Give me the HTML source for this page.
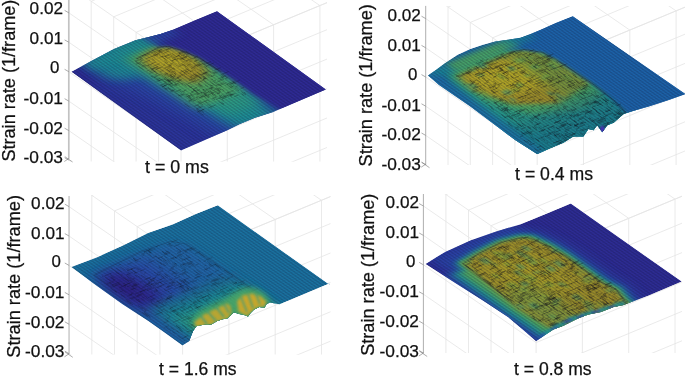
<!DOCTYPE html>
<html><head><meta charset="utf-8"><title>Strain rate surfaces</title>
<style>html,body{margin:0;padding:0;background:#fff;}svg{display:block}</style></head>
<body>
<svg width="685" height="378" viewBox="0 0 685 378" font-family="'Liberation Sans', sans-serif" fill="#111">
<defs>
<filter id="b0.4" x="-60%" y="-60%" width="220%" height="220%"><feGaussianBlur stdDeviation="0.4"/></filter>
<filter id="b1" x="-60%" y="-60%" width="220%" height="220%"><feGaussianBlur stdDeviation="1"/></filter>
<filter id="b1.5" x="-60%" y="-60%" width="220%" height="220%"><feGaussianBlur stdDeviation="1.5"/></filter>
<filter id="b2" x="-60%" y="-60%" width="220%" height="220%"><feGaussianBlur stdDeviation="2"/></filter>
<filter id="b2.5" x="-60%" y="-60%" width="220%" height="220%"><feGaussianBlur stdDeviation="2.5"/></filter>
<filter id="b3" x="-60%" y="-60%" width="220%" height="220%"><feGaussianBlur stdDeviation="3"/></filter>
<filter id="b3.5" x="-60%" y="-60%" width="220%" height="220%"><feGaussianBlur stdDeviation="3.5"/></filter>
<filter id="b4" x="-60%" y="-60%" width="220%" height="220%"><feGaussianBlur stdDeviation="4"/></filter>
<filter id="b4.5" x="-60%" y="-60%" width="220%" height="220%"><feGaussianBlur stdDeviation="4.5"/></filter>
<filter id="b5" x="-60%" y="-60%" width="220%" height="220%"><feGaussianBlur stdDeviation="5"/></filter>
<filter id="b6" x="-60%" y="-60%" width="220%" height="220%"><feGaussianBlur stdDeviation="6"/></filter>
<filter id="b7" x="-60%" y="-60%" width="220%" height="220%"><feGaussianBlur stdDeviation="7"/></filter>
<pattern id="mesh" width="2" height="2" patternUnits="userSpaceOnUse"><line x1="0.5" y1="0" x2="0.5" y2="2" stroke="#08082a" stroke-width="0.55" opacity="0.30"/><line x1="0" y1="0.5" x2="2" y2="0.5" stroke="#08082a" stroke-width="0.4" opacity="0.15"/></pattern>
</defs>
<rect width="685" height="378" fill="#fff"/>
<!-- panel 1 -->
<clipPath id="k1"><rect x="66" y="0" width="261" height="161.7"/></clipPath>
<g clip-path="url(#k1)" stroke="#e5e5e5" stroke-width="0.8" fill="none">
<line x1="68.8" y1="-14.2" x2="181.0" y2="63.2"/>
<line x1="181.0" y1="63.2" x2="332.0" y2="0.6"/>
<line x1="68.8" y1="12.8" x2="181.0" y2="90.2"/>
<line x1="181.0" y1="90.2" x2="332.0" y2="27.6"/>
<line x1="68.8" y1="42.2" x2="181.0" y2="119.7"/>
<line x1="181.0" y1="119.7" x2="332.0" y2="57.0"/>
<line x1="68.8" y1="71.7" x2="181.0" y2="149.1"/>
<line x1="181.0" y1="149.1" x2="332.0" y2="86.5"/>
<line x1="68.8" y1="101.1" x2="181.0" y2="178.6"/>
<line x1="181.0" y1="178.6" x2="332.0" y2="115.9"/>
<line x1="68.8" y1="130.6" x2="181.0" y2="208.0"/>
<line x1="181.0" y1="208.0" x2="332.0" y2="145.4"/>
<line x1="68.8" y1="160.1" x2="181.0" y2="237.5"/>
<line x1="181.0" y1="237.5" x2="332.0" y2="174.8"/>
<line x1="91.2" y1="1.3" x2="91.2" y2="161.7"/>
<line x1="91.2" y1="1.3" x2="491.2" y2="-164.7"/>
<line x1="113.7" y1="16.8" x2="113.7" y2="161.7"/>
<line x1="113.7" y1="16.8" x2="513.7" y2="-149.2"/>
<line x1="136.1" y1="32.3" x2="136.1" y2="161.7"/>
<line x1="136.1" y1="32.3" x2="536.1" y2="-133.7"/>
<line x1="158.6" y1="47.7" x2="158.6" y2="161.7"/>
<line x1="158.6" y1="47.7" x2="558.6" y2="-118.3"/>
<line x1="181.0" y1="63.2" x2="181.0" y2="161.7"/>
<line x1="181.0" y1="63.2" x2="581.0" y2="-102.8"/>
<line x1="227.3" y1="44.0" x2="227.3" y2="161.7"/>
<line x1="227.3" y1="44.0" x2="-172.7" y2="-232.0"/>
<line x1="273.6" y1="24.8" x2="273.6" y2="161.7"/>
<line x1="273.6" y1="24.8" x2="-126.4" y2="-251.2"/>
<line x1="319.9" y1="5.6" x2="319.9" y2="161.7"/>
<line x1="319.9" y1="5.6" x2="-80.1" y2="-270.4"/>
<line x1="366.2" y1="-13.6" x2="-33.8" y2="-289.6"/>
<line x1="412.5" y1="-32.9" x2="12.5" y2="-308.9"/>
<line x1="458.8" y1="-52.1" x2="58.8" y2="-328.1"/>
<line x1="505.1" y1="-71.3" x2="105.1" y2="-347.3"/>
</g>
<line x1="68.8" y1="0" x2="68.8" y2="158.8" stroke="#c2c2c2" stroke-width="1.7"/>
<line x1="64.6" y1="10.4" x2="68.8" y2="12.8" stroke="#8a8a8a" stroke-width="0.7"/>
<line x1="64.6" y1="39.9" x2="68.8" y2="42.2" stroke="#8a8a8a" stroke-width="0.7"/>
<line x1="64.6" y1="69.3" x2="68.8" y2="71.7" stroke="#8a8a8a" stroke-width="0.7"/>
<line x1="64.6" y1="98.7" x2="68.8" y2="101.1" stroke="#8a8a8a" stroke-width="0.7"/>
<line x1="64.6" y1="128.2" x2="68.8" y2="130.6" stroke="#8a8a8a" stroke-width="0.7"/>
<line x1="64.6" y1="157.7" x2="68.8" y2="160.1" stroke="#8a8a8a" stroke-width="0.7"/>
<path d="M64.8,156.6L72.6,162.0M64.3,161.5L68.8,158.5" stroke="#777" stroke-width="0.6" fill="none"/>
<clipPath id="c1"><polygon points="71.3,71.7 92.7,60.3 114.0,49.0 135.4,40.2 148.0,37.2 160.6,33.9 173.0,29.7 195.8,20.1 217.0,11.3 325.9,89.4 272.6,112.2 255.0,117.7 239.9,124.0 227.3,130.3 181.0,150.6"/></clipPath>
<g clip-path="url(#c1)">
<polygon points="71.3,71.7 92.7,60.3 114.0,49.0 135.4,40.2 148.0,37.2 160.6,33.9 173.0,29.7 195.8,20.1 217.0,11.3 325.9,89.4 272.6,112.2 255.0,117.7 239.9,124.0 227.3,130.3 181.0,150.6" fill="#2d2c94"/>
<g transform="matrix(1.4570,-0.6040,1.0970,0.7890,71.3,71.7)">
<rect x="-2" y="18" width="36" height="94" fill="#2a3ea2" filter="url(#b5)" opacity="0.55"/>
<polygon points="8.0,-5.0 66.0,-5.0 66.0,108.0 26.0,108.0 18.0,50.0 10.0,20.0" fill="#2a4aa8" filter="url(#b5)" opacity="0.85"/>
<polygon points="27.0,-5.0 64.0,-5.0 64.0,104.0 38.0,104.0 33.0,60.0 28.0,25.0" fill="#1f8d96" filter="url(#b4.5)" opacity="1"/>
<ellipse cx="24" cy="10" rx="13" ry="16" fill="#1f8d96" filter="url(#b4)" opacity="0.9"/>
<polygon points="30.0,-2.0 64.0,-2.0 64.0,88.0 42.0,88.0 36.0,50.0" fill="#2a9a85" filter="url(#b4.5)" opacity="1"/>
<rect x="33" y="6" width="31" height="66" fill="#4da562" filter="url(#b4)" opacity="1"/>
<polygon points="37.0,13.5 46.0,9.5 54.0,10.0 60.0,14.5 63.0,29.5 60.0,46.0 47.0,52.0 40.0,40.0 36.5,26.0" fill="#9c8e2a" filter="url(#b3)" opacity="1"/>
<polygon points="40.0,14.0 52.0,13.0 58.0,20.0 59.0,32.0 52.0,40.0 44.0,36.0 39.0,24.0" fill="#b8ac28" filter="url(#b4)" opacity="0.85"/>
<polygon points="50.0,-10.0 53.0,9.0 57.5,12.0 60.7,19.5 64.0,31.5 65.5,58.0 66.0,80.0 70.0,110.0 110.0,110.0 110.0,-10.0" fill="#2d2c94" filter="url(#b1.5)" opacity="1"/>
<rect x="10" y="-4" width="46" height="10" fill="#1f8d96" filter="url(#b3)" opacity="0.9"/>
<rect x="52" y="-4" width="18" height="10" fill="#2a4aa8" filter="url(#b3)" opacity="0.8"/>
<path d="M36.0,11.5 L45.0,10.5 L53.0,9.5 L57.5,12.0 L60.7,19.5 L64.0,31.5 L65.2,50.0" stroke="#15152a" stroke-width="0.8" fill="none" opacity="0.55" stroke-linejoin="round" filter="url(#b0.4)"/>
<path d="M45.8,46.4h5.2M47.8,48.2v2.0M52.0,61.5h1.6M33.2,62.6h4.2M52.9,50.0h1.9M48.5,13.9h2.0M31.1,40.2v3.1M48.2,51.6v3.3M46.0,28.1v5.5M59.4,56.0h2.6M40.1,14.6h4.5M59.6,35.1v5.3M61.9,40.5h5.4M32.6,50.9h4.5M33.1,31.6v5.3M34.1,26.0h1.6M57.9,21.5h3.6M36.7,57.6v1.8M34.1,37.3h2.1M64.0,62.2v2.5M37.4,35.6v4.9M33.5,74.3h2.1M57.0,31.4h2.5M33.2,47.9v2.2M43.0,39.5h5.3M50.1,66.3h2.0M61.8,63.2h2.3M55.9,71.1v2.0M60.9,49.2h3.0M31.4,72.6v2.2M39.0,63.5h3.8M36.1,56.8h1.5M49.6,65.4h3.8M45.6,13.9h2.0M50.0,18.6v2.8M64.3,52.7v4.2M34.9,12.3v1.3M54.5,72.6v1.3M46.9,57.5v2.6M32.6,45.5v4.4M55.8,55.7v4.6M42.3,54.5v5.1M44.6,61.4v4.9M51.9,34.9v3.7M32.8,51.6v5.5M55.5,35.2v4.4M45.4,64.5v1.6M31.0,49.1h3.3M54.4,42.3v3.8M39.0,10.7v2.5M37.1,21.0v5.1M45.5,68.0v2.6M36.9,38.0v4.7M60.8,35.0h3.7M34.8,42.3v4.8M54.9,71.8h2.4M45.8,27.9h2.1M51.9,42.1v2.6M54.8,47.1v2.5M45.9,11.6h4.8M34.9,13.1h3.9M52.0,52.6v4.7M54.0,23.0h3.2M30.4,40.7h4.3M39.5,32.5v4.2M51.5,59.2v2.9M62.6,57.0h1.8M51.9,69.1v2.8M60.8,61.8h5.3M52.8,23.3v4.3M52.5,56.6v2.1M48.8,61.4v2.6M60.0,32.7h1.6M49.3,59.9h3.3M58.0,21.2v2.6M34.9,19.7v3.4M59.4,54.8h5.3M37.7,44.2v2.4M52.4,44.0v4.8M40.9,34.8v4.8M37.3,65.3v5.4M50.1,23.1v3.5M51.2,11.8v5.4M44.0,62.1h3.6M54.2,14.3h3.5M63.5,70.0h2.4M34.4,38.2v4.7M46.7,30.6v2.0M36.8,24.8h4.2M42.4,50.3v1.7M34.3,43.2h2.3M48.6,38.4h2.8M48.5,20.4v2.1M52.3,44.4v4.9M60.0,25.1v4.4M61.6,30.5v2.6M37.6,74.9h5.0M38.4,57.2h2.3M59.1,37.4h4.6M44.1,54.5h1.3M53.9,69.2h5.4M47.7,59.3v3.4M36.6,14.6h1.7M49.3,43.5h3.6M36.5,23.3v4.8M32.2,71.8v3.2M41.4,40.4h3.4M51.0,10.9v4.2M36.3,39.5h4.4M36.8,20.7h3.4M61.3,62.1v4.2M52.0,36.3v3.8M64.4,62.3v2.3M56.1,60.6h4.7M61.4,67.2v4.2M56.8,36.4h4.3M42.0,40.5h1.2M52.4,50.6v2.2M53.3,32.0v4.0M48.7,35.3v5.5M54.5,59.5h5.4M51.5,58.0h2.3M43.1,16.4v2.3M49.3,43.0v5.4M50.9,59.4v1.4M35.6,40.7h1.9M51.4,13.8h5.3M48.4,48.9h2.8M52.9,46.4v2.4M40.4,10.9h2.3M35.5,59.1v2.9M32.6,68.9h3.0M48.3,70.9h4.3M64.3,63.1h3.8M51.8,39.6h2.1M48.5,18.1v3.1M45.9,27.0h3.7M57.2,44.5v5.5M55.7,25.5v1.7M57.5,50.6h2.7M54.0,46.7v3.7M56.4,22.3v2.3M62.1,67.1h1.4M39.5,37.6h3.9M49.0,14.7v1.6M49.3,51.0h2.8M37.4,32.3v4.4M32.6,17.8v4.7M56.9,23.9h3.0M58.3,34.0v4.0M41.4,45.7v4.4M45.0,34.0v1.6M32.7,15.4h3.6M54.0,29.4h4.5M37.5,53.0h1.6M55.4,55.1h2.4M42.5,57.2h2.8M54.8,47.0v5.1M62.0,38.5h4.7M41.1,36.0v5.2M38.7,33.5h2.8M43.8,35.2v2.0M57.9,45.1v4.8M36.2,59.3h5.0M30.8,43.5v3.5M63.8,52.3h4.7M49.1,61.2h1.6M55.8,68.4v1.6M35.0,58.5h4.0M37.7,59.7v3.4M43.8,32.0v5.4M47.3,44.9v4.3M62.0,36.7v4.8M59.9,62.4v4.8M63.5,51.6v3.5M58.1,37.4h3.0M55.9,74.4h2.8M37.2,37.6v2.5M32.1,30.0v1.7M57.2,21.7h1.5M50.4,69.1h1.4M36.5,24.1v2.2M50.8,24.6h2.0M36.0,59.2v2.5M58.6,41.2v2.3M49.2,72.2h3.3M31.7,71.6h4.6M48.5,43.5v2.4M53.0,25.4h1.2M43.0,61.8v4.3M35.5,20.2h2.6M60.4,43.5v3.9M39.3,44.7v1.8M30.0,63.4v4.8M32.9,27.5h4.3M46.8,40.5v5.3M60.0,29.7h4.6M58.9,23.5v3.5M35.5,64.1h2.5M32.7,29.9v3.2M42.6,54.7h1.7M46.2,72.8v4.8M54.9,25.4h3.6M30.4,74.5h4.6M51.6,28.9v2.8M40.4,31.9v2.9M39.0,23.0h4.3M63.1,46.6h4.3M34.9,16.1v4.1M36.3,36.1v4.8M33.2,24.7h1.9M44.2,14.7h5.2M47.9,52.1v4.5M43.5,31.5h3.0M44.0,55.5v5.4M53.1,49.6h1.3M42.0,52.3h1.7M47.8,61.3v4.7M35.5,59.8v5.1M42.3,42.5v1.8M55.0,64.3v2.0M51.9,22.9h1.6M50.2,55.3v2.6M42.6,40.1v1.7M34.7,68.8v3.5M49.6,27.2v5.1M58.6,49.1v1.7M40.1,68.3v2.2M59.1,22.1h3.6M53.0,30.0v4.1M43.4,48.5h4.7M37.0,40.4h1.8M49.9,21.3h3.4M49.9,31.6h4.0M53.5,19.4v5.3M46.4,36.7v3.9M56.5,58.9v3.3M59.3,65.6h3.0M49.8,68.8v3.5M45.1,68.8h2.6M55.4,68.5v4.3M56.3,29.8h3.8M34.4,39.1h3.4M31.8,55.2h3.5M40.7,35.7h2.2M61.9,72.8v4.1M44.7,62.3v2.2M49.8,68.7v1.6M34.3,44.9h5.3M38.5,29.5h2.6M61.3,63.0h2.9M50.5,13.0v1.3M40.8,42.4v5.2M46.5,23.4v2.5M59.3,33.0h3.2M60.8,74.7v2.1M36.7,67.2h1.4M55.4,30.3v5.1M55.0,18.8v4.2M45.6,15.1h2.2M54.9,22.8h2.0M53.3,61.4v2.8M61.0,48.3h2.2M62.4,53.4v2.4M33.1,73.9v3.1M48.6,12.9h3.8M38.8,62.2h1.6M56.4,26.0v2.4M36.5,68.3h5.4M46.2,58.8v2.9M47.5,21.7v3.6M42.6,52.8v4.6M47.7,65.0v4.1M57.3,20.7h3.8M45.4,60.2v4.6M38.3,41.8v2.2M47.5,12.3v3.8M50.0,66.7h2.0M30.6,42.2h3.1M39.2,61.9v1.5M49.9,45.3h4.6M35.1,30.2h1.4M51.7,44.2v2.3M33.1,63.3h1.9M35.6,54.9v4.8M32.1,36.7h2.8M47.1,59.5h5.4M45.9,58.4h1.4M43.8,29.4h3.0M31.2,74.7v4.5M38.0,26.5h3.6M46.2,70.6h2.8M31.4,36.2h4.0M42.0,55.2v4.9M61.0,40.1v2.9M43.3,60.8h2.1M36.4,45.7h1.9M37.5,40.4h2.5M60.2,23.3h2.8M54.2,33.6h2.4M36.4,27.1v2.9M55.0,27.5h2.8M56.8,57.0h5.1M41.3,35.0v1.6M41.4,60.1h3.4M43.8,25.5h1.4M50.8,12.1h2.5M49.0,18.8h4.2M55.4,53.3h1.8M39.8,56.3h2.9M60.3,24.7h2.5M37.6,12.6v1.3M49.8,62.6h5.4M53.5,69.7v2.1M53.3,72.1h4.9M52.1,15.8h3.0M32.1,34.9h2.6M39.8,20.3h2.9M35.8,53.2h2.2M42.0,37.4v1.8M54.5,46.0h4.2M43.7,33.7h1.5M31.9,42.2h3.7M41.4,26.5h1.3M61.2,46.8v2.3M36.5,40.5v3.8M42.7,47.5v5.3M52.0,50.4h3.0M39.7,63.9h5.0M34.8,43.0h2.5M36.7,24.9h4.1M30.0,45.3h2.9M47.3,52.3v3.6M49.6,64.0h5.4M42.1,67.6v2.5M54.3,54.6v5.3M35.6,50.4v3.3M42.9,28.6v4.4M38.3,26.2h2.6M48.0,18.2h1.5M33.6,55.8h1.7M57.0,41.2v1.9M38.9,43.0h4.6M55.1,26.4h4.3M41.7,59.4v4.8M49.9,37.3v4.2M59.1,62.1h1.7M53.4,25.0h2.0M50.5,71.2h5.4M54.1,37.3h3.9M62.7,74.3v1.4M34.1,12.8v2.4M41.6,11.7h3.5M43.1,30.1v4.6M39.9,35.5v3.9M54.3,45.5h4.6M36.1,17.0h5.2M47.1,17.8h2.6M49.8,19.3h3.9M38.0,41.3h2.8M61.2,30.1h1.5M46.9,74.8v2.1M46.9,36.9h4.7M32.0,45.8v4.0M39.7,71.0v4.9M45.5,64.2h4.3M34.2,14.9v2.7M40.9,43.4h1.2M48.5,62.7v4.6M44.0,62.2v4.8M54.7,26.3h5.1M50.2,24.8h2.9M53.0,62.7v2.8M42.4,28.1h5.1M33.3,31.8h4.4M56.0,45.5h4.1M33.7,19.3h2.7M30.3,42.7h2.9M48.8,71.9v2.1M41.2,59.0v1.7" stroke="#101018" stroke-width="0.5" fill="none" opacity="0.33"/>
<rect x="-20" y="-20" width="140" height="140" fill="url(#mesh)"/>
</g>
</g>
<text x="63.0" y="13.9" text-anchor="end" textLength="33.4" lengthAdjust="spacingAndGlyphs" font-size="16.8" stroke="#111" stroke-width="0.25">0.02</text>
<text x="63.0" y="43.8" text-anchor="end" textLength="33.4" lengthAdjust="spacingAndGlyphs" font-size="16.8" stroke="#111" stroke-width="0.25">0.01</text>
<text x="59.5" y="72.8" text-anchor="end" textLength="9.4" lengthAdjust="spacingAndGlyphs" font-size="16.8" stroke="#111" stroke-width="0.25">0</text>
<text x="63.0" y="103.6" text-anchor="end" textLength="39.5" lengthAdjust="spacingAndGlyphs" font-size="16.8" stroke="#111" stroke-width="0.25">-0.01</text>
<text x="63.0" y="133.5" text-anchor="end" textLength="39.5" lengthAdjust="spacingAndGlyphs" font-size="16.8" stroke="#111" stroke-width="0.25">-0.02</text>
<text x="63.0" y="163.4" text-anchor="end" textLength="39.5" lengthAdjust="spacingAndGlyphs" font-size="16.8" stroke="#111" stroke-width="0.25">-0.03</text>
<text transform="translate(14.8,161.6) rotate(-90)" textLength="162.0" lengthAdjust="spacingAndGlyphs" font-size="17.6" stroke="#111" stroke-width="0.25">Strain rate (1/frame)</text>
<text x="145.0" y="172.6" textLength="63.8" lengthAdjust="spacingAndGlyphs" font-size="17.7" stroke="#111" stroke-width="0.25">t = 0 ms</text>
<!-- panel 2 -->
<clipPath id="k2"><rect x="423" y="6" width="263" height="159"/></clipPath>
<g clip-path="url(#k2)" stroke="#e5e5e5" stroke-width="0.8" fill="none">
<line x1="425.7" y1="-8.4" x2="537.2" y2="68.5"/>
<line x1="537.2" y1="68.5" x2="691.0" y2="4.7"/>
<line x1="425.7" y1="18.6" x2="537.2" y2="95.5"/>
<line x1="537.2" y1="95.5" x2="691.0" y2="31.7"/>
<line x1="425.7" y1="47.8" x2="537.2" y2="124.7"/>
<line x1="537.2" y1="124.7" x2="691.0" y2="60.9"/>
<line x1="425.7" y1="77.0" x2="537.2" y2="153.9"/>
<line x1="537.2" y1="153.9" x2="691.0" y2="90.1"/>
<line x1="425.7" y1="106.2" x2="537.2" y2="183.1"/>
<line x1="537.2" y1="183.1" x2="691.0" y2="119.3"/>
<line x1="425.7" y1="135.4" x2="537.2" y2="212.3"/>
<line x1="537.2" y1="212.3" x2="691.0" y2="148.5"/>
<line x1="425.7" y1="164.6" x2="537.2" y2="241.5"/>
<line x1="537.2" y1="241.5" x2="691.0" y2="177.7"/>
<line x1="448.0" y1="7.0" x2="448.0" y2="165.0"/>
<line x1="448.0" y1="7.0" x2="848.0" y2="-159.0"/>
<line x1="470.3" y1="22.4" x2="470.3" y2="165.0"/>
<line x1="470.3" y1="22.4" x2="870.3" y2="-143.6"/>
<line x1="492.6" y1="37.8" x2="492.6" y2="165.0"/>
<line x1="492.6" y1="37.8" x2="892.6" y2="-128.2"/>
<line x1="514.9" y1="53.1" x2="514.9" y2="165.0"/>
<line x1="514.9" y1="53.1" x2="914.9" y2="-112.9"/>
<line x1="537.2" y1="68.5" x2="537.2" y2="165.0"/>
<line x1="537.2" y1="68.5" x2="937.2" y2="-97.5"/>
<line x1="583.5" y1="49.3" x2="583.5" y2="165.0"/>
<line x1="583.5" y1="49.3" x2="183.5" y2="-226.7"/>
<line x1="629.8" y1="30.1" x2="629.8" y2="165.0"/>
<line x1="629.8" y1="30.1" x2="229.8" y2="-245.9"/>
<line x1="676.1" y1="10.9" x2="676.1" y2="165.0"/>
<line x1="676.1" y1="10.9" x2="276.1" y2="-265.1"/>
<line x1="722.4" y1="-8.3" x2="322.4" y2="-284.3"/>
<line x1="768.7" y1="-27.5" x2="368.7" y2="-303.5"/>
<line x1="815.0" y1="-46.8" x2="415.0" y2="-322.8"/>
<line x1="861.3" y1="-66.0" x2="461.3" y2="-342.0"/>
</g>
<line x1="425.7" y1="5.9" x2="425.7" y2="164.5" stroke="#8c8c8c" stroke-width="0.7"/>
<line x1="421.5" y1="16.2" x2="425.7" y2="18.6" stroke="#8a8a8a" stroke-width="0.7"/>
<line x1="421.5" y1="45.4" x2="425.7" y2="47.8" stroke="#8a8a8a" stroke-width="0.7"/>
<line x1="421.5" y1="74.6" x2="425.7" y2="77.0" stroke="#8a8a8a" stroke-width="0.7"/>
<line x1="421.5" y1="103.8" x2="425.7" y2="106.2" stroke="#8a8a8a" stroke-width="0.7"/>
<line x1="421.5" y1="133.0" x2="425.7" y2="135.4" stroke="#8a8a8a" stroke-width="0.7"/>
<line x1="421.5" y1="162.2" x2="425.7" y2="164.6" stroke="#8a8a8a" stroke-width="0.7"/>
<path d="M421.7,162.3L429.5,167.7M421.2,167.2L425.7,164.2" stroke="#777" stroke-width="0.6" fill="none"/>
<clipPath id="c2"><polygon points="428.0,75.4 435.1,70.4 445.1,62.9 457.7,54.8 470.3,49.0 482.9,44.8 495.4,41.5 508.0,39.7 520.6,37.7 530.6,33.9 540.7,29.7 555.8,23.1 572.8,16.3 685.5,94.0 668.9,100.1 648.8,106.4 631.2,111.4 623.6,113.9 613.6,122.7 607.3,125.2 602.3,132.3 597.2,125.2 593.5,130.3 588.4,129.0 583.4,136.5 573.3,136.5 563.3,142.8 550.7,147.9 537.2,154.1 515.5,140.3 495.4,125.2 470.3,106.4 438.9,85.0"/></clipPath>
<g clip-path="url(#c2)">
<polygon points="428.0,75.4 435.1,70.4 445.1,62.9 457.7,54.8 470.3,49.0 482.9,44.8 495.4,41.5 508.0,39.7 520.6,37.7 530.6,33.9 540.7,29.7 555.8,23.1 572.8,16.3 685.5,94.0 668.9,100.1 648.8,106.4 631.2,111.4 623.6,113.9 613.6,122.7 607.3,125.2 602.3,132.3 597.2,125.2 593.5,130.3 588.4,129.0 583.4,136.5 573.3,136.5 563.3,142.8 550.7,147.9 537.2,154.1 515.5,140.3 495.4,125.2 470.3,106.4 438.9,85.0" fill="#1c62a8"/>
<g transform="matrix(1.4480,-0.5910,1.0920,0.7870,428,75.4)">
<polygon points="12.0,8.0 30.0,5.0 50.0,7.0 58.0,12.0 63.0,20.0 65.5,33.0 66.5,63.0 65.7,81.5 63.5,96.0 63.0,110.0 0.0,110.0 5.0,60.0 8.0,37.0 9.0,18.0" fill="#1f6f97" stroke="#1f6f97" stroke-width="14" stroke-linejoin="round" filter="url(#b3)" opacity="1"/>
<polygon points="12.0,8.0 30.0,5.0 50.0,7.0 58.0,12.0 63.0,20.0 65.5,33.0 66.5,63.0 65.7,81.5 63.5,96.0 63.0,110.0 0.0,110.0 5.0,60.0 8.0,37.0 9.0,18.0" fill="#1f8d96" stroke="#1f8d96" stroke-width="6" stroke-linejoin="round" filter="url(#b2.5)" opacity="1"/>
<polygon points="9.0,6.0 30.0,4.0 50.0,6.0 58.0,11.0 63.0,20.0 66.0,33.0 67.0,73.0 64.0,92.0 30.0,92.0 8.0,80.0 6.0,40.0" fill="#2a9a85" filter="url(#b3)" opacity="1"/>
<polygon points="11.0,7.0 30.0,5.0 50.0,7.0 58.0,12.0 63.0,20.0 66.0,33.0 67.0,72.0 48.0,80.0 22.0,68.0 10.0,38.0" fill="#4da562" filter="url(#b3)" opacity="1"/>
<polygon points="13.0,10.5 30.0,10.0 42.0,9.5 51.0,8.5 59.0,11.0 65.0,19.0 67.0,33.0 67.0,60.0 40.0,66.0 20.0,52.0 11.5,27.0" fill="#9c8e2a" filter="url(#b2)" opacity="1"/>
<polygon points="15.0,13.0 30.0,12.0 45.0,12.0 52.0,22.0 50.0,46.0 30.0,46.0 18.0,38.0 14.0,24.0" fill="#b8ac28" filter="url(#b4)" opacity="0.85"/>
<rect x="47" y="8" width="23" height="64" fill="#3f9a5a" filter="url(#b4)" opacity="0.4"/>
<rect x="-5" y="68" width="75" height="44" fill="#1b7585" filter="url(#b5)" opacity="0.55"/>
<rect x="-5" y="84" width="75" height="28" fill="#1f7f8c" filter="url(#b4)" opacity="0.8"/>
<polygon points="46.0,-10.0 50.0,5.5 58.0,11.0 64.5,19.5 66.5,36.0 67.5,63.0 66.7,81.5 64.5,96.0 64.0,110.0 110.0,110.0 110.0,-10.0" fill="#1c62a8" filter="url(#b1.5)" opacity="1"/>
<rect x="14" y="-4" width="44" height="10" fill="#4da562" filter="url(#b2.5)" opacity="0.9"/>
<rect x="0" y="-4" width="14" height="9" fill="#1f8d96" filter="url(#b2.5)" opacity="0.8"/>
<rect x="-6" y="-6" width="10.5" height="118" fill="#1f6fa5" filter="url(#b2.5)" opacity="0.75"/>
<rect x="52" y="-4" width="18" height="8.5" fill="#1f8d96" filter="url(#b3)" opacity="0.7"/>
<path d="M13.0,11.5 L20.0,10.5 L30.0,10.0 L42.0,9.5 L51.0,8.5 L58.5,11.0 L64.7,19.5 L66.6,36.0 L67.5,63.0 L66.7,81.5 L64.5,96.0" stroke="#15152a" stroke-width="0.8" fill="none" opacity="0.5" stroke-linejoin="round" filter="url(#b0.4)"/>
<g filter="url(#b1)" opacity="0.45"><rect x="42.1" y="31.7" width="3.4" height="2.3" fill="#4da562"/><rect x="44.4" y="56.4" width="1.9" height="7.9" fill="#2a9a85"/><rect x="32.4" y="36.1" width="4.1" height="3.8" fill="#4da562"/><rect x="21.3" y="9.2" width="2.8" height="2.6" fill="#4da562"/><rect x="62.3" y="27.4" width="4.2" height="3.9" fill="#6fae4a"/><rect x="41.7" y="53.0" width="2.1" height="4.6" fill="#2a9a85"/><rect x="46.2" y="15.4" width="4.3" height="5.0" fill="#6fae4a"/><rect x="55.0" y="18.7" width="1.9" height="2.1" fill="#4da562"/><rect x="41.2" y="59.9" width="2.5" height="5.3" fill="#4da562"/><rect x="30.4" y="21.8" width="2.6" height="6.6" fill="#6fae4a"/><rect x="21.6" y="16.0" width="3.7" height="2.3" fill="#2a9a85"/><rect x="22.1" y="37.2" width="4.7" height="5.4" fill="#2a9a85"/><rect x="13.8" y="29.1" width="1.6" height="6.8" fill="#6fae4a"/><rect x="10.1" y="20.3" width="4.1" height="1.9" fill="#2a9a85"/><rect x="49.9" y="26.4" width="4.9" height="4.0" fill="#4da562"/><rect x="11.8" y="20.5" width="3.4" height="6.4" fill="#2a9a85"/><rect x="62.4" y="18.4" width="1.9" height="4.9" fill="#4da562"/><rect x="48.0" y="39.5" width="2.3" height="2.2" fill="#4da562"/><rect x="59.2" y="30.4" width="2.7" height="7.3" fill="#4da562"/><rect x="58.8" y="45.0" width="2.9" height="6.0" fill="#6fae4a"/><rect x="50.6" y="38.2" width="3.0" height="3.4" fill="#6fae4a"/><rect x="43.5" y="10.6" width="2.5" height="1.7" fill="#4da562"/><rect x="27.4" y="39.1" width="4.4" height="3.1" fill="#6fae4a"/><rect x="39.3" y="19.7" width="3.5" height="4.6" fill="#2a9a85"/><rect x="27.5" y="6.7" width="4.8" height="6.4" fill="#2a9a85"/><rect x="21.5" y="45.5" width="2.1" height="4.4" fill="#2a9a85"/><rect x="62.3" y="30.0" width="2.5" height="5.4" fill="#6fae4a"/><rect x="49.1" y="17.1" width="3.4" height="3.2" fill="#4da562"/></g>
<path d="M1.6,101.9h2.0M43.3,38.5h5.0M63.8,36.0v3.8M45.6,94.6h4.2M58.6,62.2h2.5M56.5,61.5v5.2M63.9,59.9v4.2M17.2,97.8v2.5M63.5,68.1v1.8M44.4,22.9v1.4M2.1,94.7v3.4M27.2,69.1h5.1M24.9,61.5v2.5M36.1,47.0v4.1M5.9,101.7h2.7M26.8,95.2v5.3M26.6,14.4h5.1M36.4,38.9h2.6M12.7,8.6v3.5M43.0,24.5h4.2M27.3,85.3h5.2M56.3,53.4v3.5M31.5,75.5h4.0M52.1,84.5v3.8M42.2,38.0v1.9M28.9,31.1v1.4M23.4,16.5h2.1M57.6,22.5h2.4M31.3,25.1v2.7M61.5,85.9h1.4M13.5,52.5v2.8M47.8,50.1h2.3M17.7,11.3h4.1M59.1,67.7h1.4M40.1,9.1h3.3M42.0,100.6h4.8M35.5,18.6v2.7M25.3,67.1v2.0M59.4,58.5v2.8M34.1,23.3h2.4M55.8,54.5v4.2M27.0,89.8h4.5M43.6,23.9h1.9M25.3,27.9v3.4M10.2,59.1v4.9M35.1,79.5v1.3M45.7,83.2h4.7M33.6,96.0h5.1M41.4,76.8v2.6M62.6,75.5v5.1M43.4,36.2h2.4M3.8,94.8h2.5M21.0,15.0h3.1M11.7,51.2h3.0M54.1,34.8v3.5M63.8,41.4v1.4M34.2,26.1h1.8M20.6,18.5v1.4M54.5,16.0v3.3M33.5,11.7h2.7M60.8,61.5v3.2M53.7,70.1h2.8M10.3,49.0h4.5M31.4,66.7h3.9M61.2,61.8h2.5M45.8,95.5h2.7M37.0,22.0v2.9M37.0,84.8v2.3M52.0,26.9v3.5M38.1,63.4v2.2M23.6,82.4v2.8M38.6,27.1h3.0M49.0,9.5h3.8M51.7,17.3v4.1M15.5,17.6v2.8M29.4,83.4v1.9M33.8,20.6h1.6M31.7,22.0v1.6M16.9,48.1v3.1M38.4,27.1v2.0M4.6,85.2v3.5M41.6,37.5v3.1M15.4,82.9h3.0M22.9,59.3v1.8M61.6,54.6v5.1M35.8,20.3v5.3M30.1,42.3v1.5M56.9,42.7v2.4M52.8,21.5v2.4M2.7,84.2v2.6M30.2,21.1h1.3M17.3,78.5v4.6M20.4,69.4h4.3M14.8,23.3h2.9M59.7,32.2v5.1M53.8,56.0h5.0M20.7,88.2h4.8M23.3,15.8h2.2M27.6,19.5h4.0M59.2,51.7v3.0M22.9,29.9h1.7M15.6,76.3v2.7M18.3,11.8h2.5M60.5,24.3h2.1M16.8,98.2h5.2M38.9,15.8v3.0M45.5,81.3h3.3M34.5,18.2h3.4M21.3,9.3h1.9M36.0,27.9v3.6M15.5,17.3v3.8M45.9,54.2h3.7M20.4,82.7h2.8M28.0,85.9h1.6M33.1,89.6h2.9M51.1,14.1v2.5M56.5,88.5h2.6M24.2,16.8v2.4M65.1,31.2v1.5M64.2,82.0v3.0M50.6,77.2v3.3M51.9,27.8h3.1M24.9,84.3v3.3M51.8,13.5h2.7M32.8,71.4v5.2M36.3,71.3v3.5M39.7,62.6h2.9M50.8,41.2v5.1M63.5,73.5h3.7M50.0,75.1h4.5M45.5,32.1v2.9M26.9,50.3h1.4M14.0,25.9h3.4M48.8,99.1v4.4M8.7,81.0h1.8M34.0,88.7v2.5M22.1,98.7v4.4M13.0,55.0v3.5M15.3,61.0h2.4M29.9,82.9h3.6M15.0,39.8h2.9M20.7,27.0v2.5M41.6,65.8v5.2M8.6,44.2v3.5M35.3,14.0v3.2M52.2,48.3h2.1M33.5,77.7v1.7M39.7,59.3h2.2M59.6,45.7v5.4M38.8,47.7v3.6M22.2,20.1v5.1M25.1,43.8v1.6M52.3,53.4v4.2M22.0,66.9v5.4M12.2,69.3v4.0M46.7,93.5h5.4M31.9,9.4h5.4M28.4,64.8h3.0M33.4,26.7v3.3M19.9,48.3v3.9M53.3,91.5h5.4M32.1,16.5h4.2M56.5,51.9h4.6M40.8,45.1h4.8M5.9,71.7h2.6M26.9,100.6v3.9M55.8,88.2h3.1M34.3,91.8h5.0M60.3,79.0v1.4M52.8,9.2v2.8M33.7,56.4h1.6M57.8,38.9v3.3M18.8,45.2v3.4M56.0,22.2v3.4M59.6,56.5v3.9M44.4,91.7v5.4M8.3,74.5h2.9M6.6,93.3v5.0M33.1,24.9v5.2M11.1,60.7h5.5M24.8,40.2h2.8M41.8,28.7h4.1M56.1,77.4h4.9M52.8,80.1h2.5M6.6,79.9h5.4M16.2,44.0v1.5M57.0,86.7v2.0M52.2,20.1v4.9M58.5,77.9v4.7M33.2,19.4v1.8M19.4,89.4v3.2M3.1,80.3h2.1M32.3,36.5h2.2M8.7,87.8v2.5M59.9,21.0v4.9M29.4,51.9h4.1M17.5,76.1h2.1M53.6,18.4h2.0M52.7,80.3v4.7M47.1,48.6h5.3M48.1,80.3v5.3M21.8,68.0v4.6M16.4,75.8h4.3M7.9,59.5h3.8M41.1,19.3v3.7M55.3,74.9v1.5M8.4,56.1v4.1M11.6,54.2h3.3M50.8,33.9h3.2M13.2,66.3v1.9M24.9,16.0h4.6M19.6,68.5v1.3M37.4,99.7v2.5M65.2,53.4h1.5M42.1,55.5h4.4M27.7,34.7h3.6M25.7,48.6h5.2M18.9,19.3v4.3M58.6,49.9v3.8M61.7,26.9h4.2M24.2,93.3v3.9M29.6,49.3v1.3M54.7,46.7v1.6M43.7,27.5v4.7M52.3,27.8v2.8M44.4,87.2v5.3M44.3,80.6h2.6M38.6,23.7h3.4M37.1,90.2h4.0M36.4,85.1v3.9M54.2,42.1v1.7M32.0,84.3v3.1M9.6,78.3v4.9M51.6,70.1h1.9M18.7,33.3h3.7M43.8,91.4h5.5M40.5,61.2v3.1M58.5,28.8h3.9M29.3,39.4v4.7M57.9,55.7v4.3M36.0,18.2v2.4M39.6,16.2h2.7M8.3,41.9h2.5M33.0,95.1h3.2M25.4,30.8h2.6M28.5,93.8v2.8M33.2,66.7h3.3M58.9,62.3h2.0M26.1,59.9h2.8M20.2,101.4v4.4M59.5,18.7v3.5M32.4,56.4v3.9M11.7,10.3h2.4M20.6,8.8v1.7M13.0,74.2v3.0M37.1,89.5h3.0M61.8,71.4v3.0M48.5,67.6v1.3M22.5,23.8h2.2M33.5,71.0v4.9M57.6,46.8v1.8M40.8,42.5h5.4M31.8,39.8v2.8M64.3,49.6v1.3M43.7,95.1v5.0M17.6,35.8h4.2M25.0,8.8h2.1M24.8,73.0h2.0M39.1,63.3v4.0M46.3,82.7h4.8M61.9,51.5v5.5M30.7,9.4v1.6M46.5,63.9h4.1M63.7,77.7v1.3M21.7,27.6v3.8M21.4,7.3h2.0M37.4,47.2v5.4M18.5,84.1v4.6M57.6,75.9v3.6M54.7,84.3v5.0M5.8,65.6v4.2M49.7,91.9h5.1M61.6,60.2h3.1M33.0,45.2h4.3M29.0,68.0v5.4M36.9,41.4v4.0M18.9,80.2h4.1M59.6,44.6h1.8M5.5,73.4h1.8M43.7,47.8h2.5M30.6,61.1h3.7M45.3,87.9v5.4M28.6,101.0v5.5M12.9,24.7h1.9M63.3,25.2v4.7M17.8,49.0v1.4M60.1,36.4h5.4M23.5,72.4h2.1M33.2,52.6h1.9M10.0,68.1v5.0M15.2,58.5h5.3M50.9,88.4v3.5M39.7,80.9h3.3M18.1,59.4h4.5M44.6,8.2v4.0M61.0,68.3v4.0M44.8,72.3v4.1M23.7,97.4h2.0M57.0,16.9h5.0M44.1,21.0h5.5M16.0,65.4v1.4M55.8,17.0h2.3M13.0,65.2h4.7M46.2,93.0h4.7M59.5,23.1h4.7M21.3,15.0h3.6M40.4,21.2h4.1M20.7,18.6h4.5M22.1,94.1v5.0M42.4,86.8v4.8M50.0,45.3h4.5M37.5,7.5v1.9M58.1,92.0v5.4M20.0,63.7h3.4M10.6,64.5v3.0M10.5,99.8h1.7M36.8,30.8h2.9M53.8,26.9h4.3M33.6,12.7h5.0M25.4,48.1h3.8M14.6,76.4v4.0M63.4,90.6v2.5M34.1,89.2h2.9M32.3,86.9v1.3M47.1,97.7h4.0M43.2,75.9v1.8M39.9,62.3v4.0M9.9,19.4h1.2M14.5,62.7h1.6M34.5,81.3h3.3M61.7,59.2v5.1M60.2,84.6v4.4M44.8,99.4h5.1M31.8,96.7v4.1M27.7,13.1h3.0M11.0,49.5v3.1M39.3,79.0v3.6M62.5,77.2v4.8M10.6,52.7h5.0M34.4,23.2v1.5M49.0,80.5v5.0M55.9,80.5h3.2M13.6,47.7h4.8M63.0,24.7h3.4M12.0,44.4h4.8M22.9,18.2v1.3M32.3,34.5v4.5M15.2,98.3h3.0M65.2,45.6v3.2M43.1,29.3h1.4M9.6,77.1v2.8M19.0,9.0v5.4M45.8,66.1v1.4M57.9,27.4v4.9M11.4,93.4v1.4M29.7,6.9h3.5M32.7,23.2v2.0M15.9,19.9h2.4M44.9,61.4v3.7M18.0,71.0h1.5M37.6,68.0v2.4M7.6,83.7v3.5M28.3,11.0v3.1M49.4,84.4v2.5M7.9,47.0v3.0M41.5,81.8v1.5M10.0,87.9h3.9M25.1,86.1h5.3M28.7,16.2v5.3M27.9,87.4v2.3M12.1,34.8v3.5M31.4,15.4h1.3M18.8,68.1v2.0M43.1,35.1v3.7M17.1,69.6v4.0M44.0,11.0h4.9M40.6,16.6v4.6M53.6,72.9v5.1M56.8,32.2h1.8M26.6,80.5h4.5M51.4,92.0v2.9M19.5,43.1h2.1M53.0,22.9v2.1M23.2,28.9h1.9M58.3,75.4v5.3M41.5,96.9v2.3M54.0,19.7v5.2M14.4,21.1h1.7M22.7,82.6h2.2M45.3,83.4v1.2M45.1,35.3h3.2M29.2,5.2v4.4M11.6,25.6h3.7M50.7,61.9h4.5M13.6,96.4h4.3M40.2,17.5h2.5M26.0,10.1v2.0M11.3,52.6v5.4M6.6,76.3v3.7M53.1,97.9v2.8M13.5,58.7v5.0M23.1,91.1v3.7M53.4,48.5h2.7M59.0,17.3h1.6M9.1,27.6h4.2M56.9,42.4v4.9M17.5,59.9h4.1M2.4,89.5h1.3M8.7,86.4v4.0M33.2,98.4v2.1M19.4,30.6h4.2M38.5,72.2h1.4M26.8,84.8h4.6M26.3,80.5h4.4M53.9,88.6v2.4M31.9,30.2v1.5M48.6,44.9h4.0M55.2,76.6h3.3M16.5,8.8v2.6M34.5,71.3h3.0M10.9,59.8v4.2M30.8,62.2v2.1M57.4,20.7v4.9M54.1,34.0h2.1M46.7,41.7v2.9M53.1,33.6h1.4M44.2,58.6v5.4M40.7,82.3h3.4M23.9,53.0h4.2M49.7,41.5h3.9M37.4,79.8h1.7M14.5,27.5v1.8M30.2,48.8h4.5M61.4,81.0v2.3M23.0,74.0h2.6M19.0,33.0v4.3M23.1,100.2v2.7M60.0,100.4h3.0M40.9,56.3v3.5M12.8,21.2h3.6M30.8,8.7h2.7M32.5,92.7h1.9M22.3,33.0h1.6M45.1,87.8v1.2M53.0,77.1h4.4M19.7,87.5v3.4M17.0,87.3h5.0M48.8,101.9h1.4M60.3,72.8h2.7M22.1,53.3v3.7M27.5,95.7h2.6M32.9,11.6v4.6M57.2,70.4h3.0M23.2,52.2h2.8M15.8,26.7v5.2M24.6,85.0v1.5M18.5,33.0v3.4M19.7,29.2v2.9M61.2,91.2v4.3M2.8,90.3h2.8M13.9,88.5h4.1M21.1,94.7v5.5M59.4,95.1h5.0M17.0,58.0v1.4M18.5,25.3v3.0M32.2,15.9h5.4M38.6,86.1h4.1M59.0,14.2h3.5M33.5,33.9h4.8M12.3,22.0h1.7M57.3,93.8h4.4M42.2,29.4h1.7M51.4,11.4h4.9M24.8,92.7h2.0M56.8,66.5h2.2M54.4,65.2h5.3M18.9,72.9v2.6M20.2,16.5h3.3M25.5,95.7h4.0M44.2,85.1v1.4M60.0,45.0v2.1M36.6,16.1v3.8M39.7,7.4h3.5M57.4,74.5v4.3M15.4,85.6v2.3M35.2,44.9h2.9M33.6,20.2h3.0M37.3,16.2h2.2M33.8,8.2v3.3M8.3,37.8h2.5M20.8,40.9h4.9M61.3,92.9v3.9M48.6,46.0h1.9M40.1,70.9v4.3M19.5,63.2v2.4M57.9,27.9h5.4M60.2,39.8v4.7M38.2,77.3v4.4M54.1,66.2v4.3M28.1,23.1h2.2M36.1,17.0v4.9M49.3,98.4h3.0M16.8,60.1v2.8M3.7,100.4v1.6M33.6,89.5h3.0M23.4,94.1h4.1M27.8,41.2v1.6M57.0,97.7h3.4M31.7,35.0v5.3M29.5,35.8h2.8M28.6,14.6v4.8M29.0,81.1v3.0M49.4,33.0h4.3M62.2,26.4h2.2M56.6,57.7v4.6M42.4,43.3h5.0M40.7,98.9h3.5M31.7,47.0h1.9M13.5,52.3v3.5M5.1,78.8h4.3M36.2,32.2v2.7M32.5,13.5v1.4M56.4,65.2v3.5M33.5,78.2h3.5M17.4,42.2v3.2M61.9,46.0v4.5M64.4,59.1v1.6M43.4,40.8h4.0M52.7,81.5v2.6M60.3,90.7v4.8M33.2,57.2h3.2M31.3,13.4v3.2M19.2,90.1v5.0M38.3,89.1h1.7M59.0,55.0v1.6M40.7,71.5h1.9M25.8,55.9h4.8M45.3,57.4h2.9M62.3,90.8v4.3M54.0,25.8v1.4M23.0,19.8v2.4M50.5,10.2v2.3M44.4,29.4v3.6M19.7,25.4h3.2M8.9,28.9h4.2M34.6,87.8v4.0M58.8,64.5v3.7M28.1,79.0v3.1M39.6,94.0v1.8M14.1,55.2h2.8M53.5,61.9v2.5M58.0,15.8v2.4M21.1,31.3h1.9M11.8,52.1h4.1M14.5,82.4h4.5M13.1,42.7v3.3M15.3,88.9v3.8M56.7,95.2v3.9M32.0,40.1h4.1M14.0,99.1h3.0M41.0,37.2v2.2M25.4,91.1h3.5M24.9,67.7v1.6M11.1,71.5v1.3M12.4,74.4v3.1M15.2,96.7h4.5M52.7,47.3v2.8M54.1,45.1h4.2M57.0,96.6h5.4M48.1,72.1h1.9M43.6,99.9v4.2M63.1,24.0h5.3M54.4,28.9h4.4M62.6,56.9h4.5M58.0,32.5h4.5M31.6,5.6h2.2M14.4,52.5v1.9M18.0,42.5v3.3M30.5,11.2v4.1M11.2,61.8v1.2M19.9,69.0v1.6M34.7,15.5h4.9M12.5,44.6v4.0M47.2,67.6v5.5M22.5,95.9h3.2M39.9,17.9h5.3M39.3,61.8h3.1M42.2,56.5h2.7M33.3,46.2v2.6M43.9,101.5v2.0M40.7,36.5v3.4M35.9,28.1v2.4M45.3,65.8h4.9M21.9,99.3v2.5M31.4,54.9v1.4M64.0,76.2v4.7M64.6,87.1h3.0M25.0,10.4v3.4M58.9,26.8h4.0M53.0,23.3v1.7M64.2,47.6v3.4M39.3,75.3h3.6M30.2,55.4h1.8M10.0,69.2v3.1M25.9,76.2h4.6M3.3,85.9v2.1M22.1,32.2v1.4M39.3,10.1h4.4M31.6,93.5v1.4M50.8,35.4h3.9M45.9,99.8h2.6M43.6,101.6v5.1M41.1,76.3h3.9M53.4,42.3v1.9M53.9,14.8h3.5M54.2,37.2v3.1M48.4,9.5h3.8M21.3,88.9v4.2M17.2,42.3v3.4M31.8,87.8h2.0M34.2,60.9h4.8M29.5,36.2h1.9M25.4,25.9v2.1M20.0,93.3h2.7M11.6,88.3v3.6M28.6,37.9h3.0M49.7,98.0v4.3M21.8,49.9v1.2M60.3,74.4h2.7M38.8,38.2h3.3M54.1,94.5v4.2M61.9,53.2v1.4M29.1,39.5v2.3M57.3,36.0h3.7M55.4,54.4h5.3M63.6,36.7h4.5M18.9,90.9h3.8M41.0,55.7v5.4M40.1,70.5h1.2M62.9,56.2h2.3M21.7,50.4v2.4M10.9,13.9h1.5M11.7,31.8h2.1M45.4,6.6v2.5M3.0,97.3h1.7M62.1,79.8h2.3M22.7,61.0v1.4M29.1,88.2h1.7M55.0,70.4v2.9M10.8,98.9v5.1M41.7,101.8h2.5M58.7,85.0v4.6M44.4,7.3h2.5M56.6,32.9v3.9M29.0,42.6h2.6M33.8,23.2h4.7M26.7,8.5v2.5M39.9,85.2h4.0M65.1,82.9v4.4M52.5,49.0h5.4M27.4,23.3h2.0M49.4,43.4h4.4M0.9,101.7v2.0M25.3,31.0v1.6M34.0,36.8v4.0M21.7,68.9h4.4M48.7,75.9h4.7M62.9,58.6v3.2M55.3,26.3h1.8M42.5,27.5h4.0M15.4,38.6h1.6M11.6,53.7h1.9M38.8,81.5h3.8M31.6,76.0v4.1M49.0,95.4h2.1M34.8,6.9h1.4M20.4,82.7v2.2M32.0,86.7h1.7M8.9,32.5h2.6M25.4,16.5h1.4M53.1,64.2v4.0M44.2,17.5h3.4M52.3,84.6v4.4M34.2,35.4h3.2M36.1,36.4v5.1M6.8,63.7v2.6M61.6,96.0h2.4M36.0,76.7h1.5M36.5,81.6v4.8M42.1,47.3h4.4" stroke="#101018" stroke-width="0.5" fill="none" opacity="0.4"/>
<rect x="-20" y="-20" width="140" height="140" fill="url(#mesh)"/>
</g>
<ellipse cx="602.3" cy="129.5" rx="2.2" ry="3.5" fill="#4a2fb8" filter="url(#b1)"/>
</g>
<text x="420.9" y="20.8" text-anchor="end" textLength="33.4" lengthAdjust="spacingAndGlyphs" font-size="16.8" stroke="#111" stroke-width="0.25">0.02</text>
<text x="420.9" y="50.7" text-anchor="end" textLength="33.4" lengthAdjust="spacingAndGlyphs" font-size="16.8" stroke="#111" stroke-width="0.25">0.01</text>
<text x="417.4" y="79.7" text-anchor="end" textLength="9.4" lengthAdjust="spacingAndGlyphs" font-size="16.8" stroke="#111" stroke-width="0.25">0</text>
<text x="420.9" y="110.5" text-anchor="end" textLength="39.5" lengthAdjust="spacingAndGlyphs" font-size="16.8" stroke="#111" stroke-width="0.25">-0.01</text>
<text x="420.9" y="140.4" text-anchor="end" textLength="39.5" lengthAdjust="spacingAndGlyphs" font-size="16.8" stroke="#111" stroke-width="0.25">-0.02</text>
<text x="420.9" y="170.3" text-anchor="end" textLength="39.5" lengthAdjust="spacingAndGlyphs" font-size="16.8" stroke="#111" stroke-width="0.25">-0.03</text>
<text transform="translate(372.4,166.4) rotate(-90)" textLength="162.2" lengthAdjust="spacingAndGlyphs" font-size="17.6" stroke="#111" stroke-width="0.25">Strain rate (1/frame)</text>
<text x="515.1" y="180.1" textLength="77.9" lengthAdjust="spacingAndGlyphs" font-size="17.7" stroke="#111" stroke-width="0.25">t = 0.4 ms</text>
<!-- panel 3 -->
<clipPath id="k3"><rect x="66" y="195" width="264.5" height="159.7"/></clipPath>
<g clip-path="url(#k3)" stroke="#e5e5e5" stroke-width="0.8" fill="none">
<line x1="69.0" y1="179.6" x2="182.6" y2="257.9"/>
<line x1="182.6" y1="257.9" x2="335.5" y2="194.5"/>
<line x1="69.0" y1="206.6" x2="182.6" y2="284.9"/>
<line x1="182.6" y1="284.9" x2="335.5" y2="221.5"/>
<line x1="69.0" y1="236.0" x2="182.6" y2="314.3"/>
<line x1="182.6" y1="314.3" x2="335.5" y2="250.9"/>
<line x1="69.0" y1="265.4" x2="182.6" y2="343.7"/>
<line x1="182.6" y1="343.7" x2="335.5" y2="280.3"/>
<line x1="69.0" y1="294.8" x2="182.6" y2="373.1"/>
<line x1="182.6" y1="373.1" x2="335.5" y2="309.7"/>
<line x1="69.0" y1="324.2" x2="182.6" y2="402.5"/>
<line x1="182.6" y1="402.5" x2="335.5" y2="339.1"/>
<line x1="69.0" y1="353.6" x2="182.6" y2="431.9"/>
<line x1="182.6" y1="431.9" x2="335.5" y2="368.5"/>
<line x1="91.8" y1="195.3" x2="91.8" y2="354.7"/>
<line x1="91.8" y1="195.3" x2="491.8" y2="29.3"/>
<line x1="114.5" y1="210.9" x2="114.5" y2="354.7"/>
<line x1="114.5" y1="210.9" x2="514.5" y2="44.9"/>
<line x1="137.2" y1="226.6" x2="137.2" y2="354.7"/>
<line x1="137.2" y1="226.6" x2="537.2" y2="60.6"/>
<line x1="159.9" y1="242.3" x2="159.9" y2="354.7"/>
<line x1="159.9" y1="242.3" x2="559.9" y2="76.3"/>
<line x1="182.6" y1="257.9" x2="182.6" y2="354.7"/>
<line x1="182.6" y1="257.9" x2="582.6" y2="91.9"/>
<line x1="228.9" y1="238.7" x2="228.9" y2="354.7"/>
<line x1="228.9" y1="238.7" x2="-171.1" y2="-37.3"/>
<line x1="275.2" y1="219.5" x2="275.2" y2="354.7"/>
<line x1="275.2" y1="219.5" x2="-124.8" y2="-56.5"/>
<line x1="321.5" y1="200.3" x2="321.5" y2="354.7"/>
<line x1="321.5" y1="200.3" x2="-78.5" y2="-75.7"/>
<line x1="367.8" y1="181.1" x2="-32.2" y2="-94.9"/>
<line x1="414.1" y1="161.9" x2="14.1" y2="-114.1"/>
<line x1="460.4" y1="142.7" x2="60.4" y2="-133.3"/>
<line x1="506.7" y1="123.4" x2="106.7" y2="-152.6"/>
</g>
<line x1="69.05" y1="195.9" x2="69.05" y2="354.1" stroke="#b5b5b5" stroke-width="1.1"/>
<line x1="64.8" y1="204.2" x2="69.0" y2="206.6" stroke="#8a8a8a" stroke-width="0.7"/>
<line x1="64.8" y1="233.6" x2="69.0" y2="236.0" stroke="#8a8a8a" stroke-width="0.7"/>
<line x1="64.8" y1="263.0" x2="69.0" y2="265.4" stroke="#8a8a8a" stroke-width="0.7"/>
<line x1="64.8" y1="292.4" x2="69.0" y2="294.8" stroke="#8a8a8a" stroke-width="0.7"/>
<line x1="64.8" y1="321.8" x2="69.0" y2="324.2" stroke="#8a8a8a" stroke-width="0.7"/>
<line x1="64.8" y1="351.2" x2="69.0" y2="353.6" stroke="#8a8a8a" stroke-width="0.7"/>
<path d="M65.0,351.9L72.8,357.3M64.5,356.8L69.0,353.8" stroke="#777" stroke-width="0.6" fill="none"/>
<clipPath id="c3"><polygon points="71.3,267.0 97.7,256.9 122.9,245.6 148.0,233.0 173.1,224.2 195.8,214.1 217.8,205.3 330.0,285.0 329.2,283.5 297.7,296.8 290.0,299.9 279.5,304.3 275.1,303.4 269.9,302.5 266.4,304.3 264.6,307.8 259.3,306.9 254.1,309.5 250.6,313.0 248.0,316.5 243.6,314.8 239.2,313.9 233.9,312.2 231.3,314.8 227.8,318.3 222.6,319.2 217.3,320.9 211.2,324.4 205.0,324.4 200.7,325.3 196.3,326.2 192.8,331.4 189.3,341.1 182.5,345.6 165.6,333.3 148.0,320.7 122.9,304.4 92.7,283.0"/></clipPath>
<g clip-path="url(#c3)">
<polygon points="71.3,267.0 97.7,256.9 122.9,245.6 148.0,233.0 173.1,224.2 195.8,214.1 217.8,205.3 330.0,285.0 329.2,283.5 297.7,296.8 290.0,299.9 279.5,304.3 275.1,303.4 269.9,302.5 266.4,304.3 264.6,307.8 259.3,306.9 254.1,309.5 250.6,313.0 248.0,316.5 243.6,314.8 239.2,313.9 233.9,312.2 231.3,314.8 227.8,318.3 222.6,319.2 217.3,320.9 211.2,324.4 205.0,324.4 200.7,325.3 196.3,326.2 192.8,331.4 189.3,341.1 182.5,345.6 165.6,333.3 148.0,320.7 122.9,304.4 92.7,283.0" fill="#1a72a0"/>
<g transform="matrix(1.4650,-0.6170,1.1130,0.7870,71.3,267)">
<polygon points="5.0,14.0 40.0,11.0 58.0,13.0 63.0,20.0 64.0,60.0 63.0,104.0 4.0,104.0 2.0,60.0" fill="#2366a8" filter="url(#b3)" opacity="0.95"/>
<rect x="3" y="16" width="35" height="84" fill="#2a4aa8" filter="url(#b6)" opacity="0.9"/>
<ellipse cx="12" cy="42" rx="10" ry="27" fill="#2d2c94" filter="url(#b5)" opacity="1"/>
<ellipse cx="10" cy="36" rx="6" ry="14" fill="#2a2482" filter="url(#b4)" opacity="0.8"/>
<rect x="6" y="58" width="58" height="48" fill="#1f6f97" filter="url(#b4)" opacity="1"/>
<rect x="10" y="68" width="54" height="38" fill="#1f8d96" filter="url(#b4)" opacity="1"/>
<rect x="14" y="77" width="49" height="29" fill="#2a9a85" filter="url(#b3.5)" opacity="1"/>
<rect x="17" y="86" width="43" height="20" fill="#4da562" filter="url(#b3)" opacity="0.7"/>
<path d="M5.0,30.0 L5.0,14.0 L40.0,11.0 L58.0,13.0 L63.0,20.0 L64.0,60.0 L63.5,90.0" stroke="#15152a" stroke-width="0.8" fill="none" opacity="0.25" stroke-linejoin="round" filter="url(#b0.4)"/>
<path d="M37.4,68.5h4.7M42.4,92.1h5.1M42.4,67.2v3.4M34.8,51.5v5.3M20.7,39.1h3.3M39.7,78.0v3.0M59.5,61.6h4.1M5.5,100.2h2.4M57.6,79.2h1.7M17.0,35.8v1.2M20.9,46.9h2.0M4.0,90.4v4.4M9.7,24.6h1.7M5.6,36.1h2.1M42.5,52.7h3.2M35.4,82.4h2.5M31.8,45.5h4.6M35.6,51.4v2.6M45.5,25.9v3.3M39.3,77.4h3.2M33.4,34.7v5.0M31.9,12.9v2.9M22.1,20.6v2.0M40.6,37.0v3.9M61.9,86.6v3.1M59.4,90.1v4.4M33.7,88.4v3.9M16.1,19.4v2.4M37.5,29.1v2.0M6.4,95.3v4.5M27.6,94.4h4.7M50.4,83.0h2.2M24.7,83.7v4.4M62.0,79.7h4.8M40.4,40.7h1.8M23.0,56.1h3.1M7.1,29.5h1.8M27.7,22.8v4.6M30.5,69.2h2.2M6.9,41.7h2.8M21.0,86.9h1.2M25.7,36.7h4.3M4.6,25.5h5.4M9.3,99.3v4.0M22.5,84.7h1.4M51.3,58.0h4.6M56.3,18.1h3.9M14.4,91.4v3.0M19.6,77.5v5.1M16.5,71.8v5.3M29.5,47.3v1.6M11.8,30.9h1.3M25.8,54.4h2.0M49.0,19.8v1.8M58.0,94.5h3.6M56.2,101.3v5.1M25.7,64.4v4.6M32.6,57.1v2.5M35.7,36.8v3.2M16.6,34.1v2.5M20.8,86.3v5.2M51.9,28.7v3.1M17.2,65.8v4.9M23.7,21.9h1.3M35.9,36.5v4.7M40.5,86.2v2.6M23.8,37.3v1.7M57.8,13.8h4.3M27.9,39.8h5.1M33.7,43.4h2.3M36.1,78.2h4.1M28.8,41.4v2.0M46.3,23.0v2.0M25.1,38.4h2.5M38.5,39.4h3.7M35.2,64.1v2.6M59.5,70.8h3.0M40.8,37.3v1.9M14.4,69.2h4.5M41.2,28.4v2.6M61.8,39.6h4.4M60.3,26.8h4.1M36.7,78.6v5.1M36.1,47.4v3.9M39.9,76.0v4.4M40.5,90.7h4.4M51.8,44.2v4.8M57.6,93.8h4.2M19.9,69.2h5.0M15.0,79.9h5.1M10.6,21.2v3.6M17.4,83.0h1.4M35.9,80.0v3.3M24.3,45.4h3.4M14.4,42.9h4.0M17.1,101.1h4.0M50.5,76.1v4.7M40.1,19.8h3.0M17.9,44.2h5.0M9.1,41.5h1.9M58.6,60.8v1.3M12.8,55.0v5.3M26.7,82.2h3.3M26.8,84.7v4.5M63.2,45.6v4.2M59.3,90.2h5.0M25.4,67.3h1.7M25.0,29.7v2.0M21.2,16.2v4.6M15.9,73.3h1.6M12.2,69.4v3.6M42.9,79.7v5.0M16.0,25.8v4.9M42.0,97.6h4.7M13.5,49.8v5.1M29.7,93.8v5.0M6.3,29.7h4.5M21.8,98.4h1.3M56.7,74.8h5.0M36.8,100.1h1.8M50.0,79.2v2.3M50.4,23.0v5.5M31.7,13.7v4.6M48.1,18.2v3.3M47.2,26.8h2.6M30.5,101.0h5.2M40.3,23.5v4.9M57.7,93.7h5.2M6.0,81.3v3.2M29.4,48.7h4.4M32.8,47.2h4.1M30.7,63.8v4.1M25.0,98.5h4.2M36.8,44.0h4.0M57.6,43.7h1.3M23.0,34.9h4.8M58.8,36.3v2.7M55.2,96.2h1.7M45.1,41.7h1.7M22.0,39.2v4.1M12.5,83.2v3.8M10.2,78.2h4.5M4.0,80.2v3.9M48.9,77.9v1.4M61.2,43.1v4.6M28.8,41.6v3.8M27.6,74.6h5.3M58.4,23.8v3.8M27.1,36.8h2.4M26.2,48.7v2.2M15.8,34.9v3.2M19.1,27.5v4.5M9.5,99.5v2.1M16.8,86.3v2.8M51.3,75.0h2.5M38.1,58.8h4.3M51.9,26.9h4.4M61.2,69.0h4.8M57.4,45.7v1.4M16.5,70.4h1.3M30.8,51.9h4.8M58.5,25.6h5.4M44.1,95.7v4.1M7.4,99.0v1.4M53.1,80.8v4.3M63.2,31.4v5.1M13.9,53.2h3.1M54.9,88.9h4.4M47.3,95.4v4.3M61.5,75.0h4.4M49.9,39.5h2.3M21.2,14.5h1.8M47.6,86.1v2.6M55.9,13.7v3.7M12.7,93.0v4.7M35.3,86.8v1.4M34.5,38.7v2.3M8.3,86.2v3.0M61.1,83.2h1.7M41.1,96.7h3.9M52.1,53.2h3.7M61.0,66.8v1.7M27.0,26.4h3.3M60.9,31.0h3.5M20.8,70.3v3.3M37.6,67.0v2.3M42.4,13.5h4.8M27.8,70.0h5.1M20.4,57.9h4.1M45.8,101.1h1.5M51.2,84.8h5.3M17.4,71.7v4.8M35.2,22.7h4.2M23.1,45.0h3.5M33.7,68.6v2.0M43.6,84.9v3.6M53.9,71.0v2.3M13.9,36.1h4.8M11.4,92.8h3.8M23.4,42.3v2.4M16.2,18.6v4.9M31.6,91.6v4.1M22.8,38.7h2.6M37.8,29.1v3.6M31.5,68.4v1.4M50.8,61.9v3.4M26.5,63.5h3.4M31.2,16.4h3.8M18.5,24.9h4.4M38.0,57.5h3.7M18.1,80.8h4.3M10.8,43.0h4.6M16.0,50.2v3.4M21.8,47.4v5.4M15.6,57.2v1.9M18.1,95.2h2.1M23.2,40.7h2.7M27.3,21.2v3.9M15.9,23.3h1.4M34.1,67.8v5.2M11.9,34.5h2.0M3.7,60.3v5.3M23.8,89.2h1.6M56.2,82.2v2.0M44.2,22.4v4.9M24.7,41.5v1.6M13.9,64.5v4.2M51.4,36.0h4.1M45.9,79.6v3.2M44.0,12.4h2.1M44.9,86.5v2.2M14.2,50.1h4.9M55.2,15.0v2.5M42.6,22.2v3.3M3.8,95.9v1.3M45.1,70.8h2.8M32.6,97.7h1.6M39.5,99.4v4.2M45.4,50.6h5.2M48.4,12.3h1.6M29.9,83.5v4.6M24.9,37.6h3.2M33.9,69.8v1.6M10.1,90.5h1.3M61.6,40.9v2.9M7.0,66.3h4.9M56.3,28.9v4.2M50.0,69.7v3.5M46.7,31.8v1.5M37.6,71.5v2.5M39.0,49.2h1.9M18.9,73.3v3.0M21.8,87.5v5.4M51.3,37.5h3.2M26.9,99.5v2.6M47.4,35.4h3.1M30.5,97.2h3.9M38.2,42.2h1.8M52.1,83.3v1.3M49.5,68.4h5.3M12.3,47.5v1.3M29.6,71.3v3.4M25.4,82.4v4.9M37.1,53.4v3.6M33.3,89.2h1.8M40.9,68.4v2.6M53.2,75.0h5.0M27.6,48.4h2.4M59.7,78.7v2.0M42.4,33.8h2.7M30.0,78.1h2.7M17.2,99.7h2.3M16.3,55.7v4.6M38.0,95.6v2.4M24.8,34.7h2.9M40.8,25.8v4.3M3.3,45.5v4.0M40.4,12.3h4.4M3.1,79.4h3.1M10.7,45.6h4.0M34.1,52.2h4.9M12.2,64.9h1.6M57.6,62.2h2.7M10.9,48.7v3.0M31.2,46.3h3.3M33.1,46.6h2.1M50.1,18.8v3.8M38.4,52.5v4.9M58.7,51.8h2.6M15.6,77.8h3.8M49.0,82.5v1.6M22.7,45.6v2.4M7.5,98.4v1.8M3.6,48.3v2.4M23.3,102.0h2.8M25.5,16.9h3.3M15.7,24.1v2.6M35.2,68.5h4.8M42.9,12.3v3.5M24.2,21.9v5.1M21.7,21.6h2.8M18.2,88.7v3.6M34.5,96.4v3.9M32.2,88.9v3.9M12.3,91.2v4.1M27.2,29.5h1.4M33.0,33.6h4.3M58.9,24.9h2.0M50.9,91.2h4.2M53.9,74.5v2.3M49.2,35.6h3.5M8.8,18.3h4.7M39.3,94.4h2.4M18.4,96.1h2.6M6.3,45.6h5.0M50.2,43.9v5.4M16.8,40.7h3.5M30.0,98.0h1.4M48.2,93.0h5.0M24.3,92.0v3.7M9.5,81.5v4.3M17.5,65.7h4.9M9.7,73.3h1.9M63.6,53.5v5.3M11.1,32.3h4.5M8.3,19.5v4.9M56.0,45.9v2.2M4.0,30.2v5.1M25.1,31.5v3.8M37.2,59.4v4.1M20.3,41.1h3.2M3.4,61.3v5.4M11.1,101.8h5.1M17.1,29.0v3.3M15.1,56.3h3.5M42.4,22.2h3.2M10.9,63.1v4.7M10.2,27.4v4.9M19.2,46.2v1.8M14.2,43.1h5.4M23.2,68.1v3.9M52.5,52.5h4.5M50.8,86.6v1.3M23.9,21.8h1.8M52.3,89.3h3.9M19.0,30.1h1.5M42.2,84.6v4.4M37.4,78.7v3.9M50.0,19.9h1.3M26.8,51.4v1.5M40.9,42.4h5.0M22.7,100.3h2.3M5.4,44.9h3.7M36.9,69.6v3.6M48.3,17.8v5.1M49.7,89.1h4.9M26.9,70.8v3.4M29.0,74.5h2.8M41.4,51.7h2.8M25.8,40.9v2.8M10.6,44.9h4.0M51.0,37.1h3.2M22.5,56.4v5.1M9.2,84.0v3.9M14.7,35.4h3.1M56.2,92.0h5.4M12.0,98.9h3.7M47.0,65.0v4.3M16.8,36.8v4.0M35.1,66.5h3.3M57.4,59.4h2.1M29.3,85.2v4.8M61.5,71.2h2.4M37.4,54.5v2.1M6.1,28.5v2.0M46.6,30.9v2.1M58.1,55.0v5.1M31.8,35.5h2.2M58.8,71.5v4.4M54.5,40.1h2.0M43.3,25.4v4.6M11.9,86.8v2.6M54.6,14.5h2.2M53.8,92.8h3.1M53.2,38.1v3.8M49.4,68.6v3.8M35.2,51.4v4.3M42.9,87.6h3.7M16.7,69.0h1.4M52.7,59.2h3.8M6.4,86.2v1.7M38.5,48.6v2.6M37.6,20.0v2.7M39.1,35.8h3.5M7.0,24.8v4.6M20.4,47.7h2.1M19.1,43.2h2.9M51.0,51.7v1.3M8.8,72.7v3.1M24.2,89.0h2.5M36.1,74.6v2.2M46.7,21.4h4.8M33.1,37.3v4.6M27.5,41.9h4.5M16.4,14.0v4.9M51.8,101.1v3.0M40.8,34.8h2.7M22.1,35.8v2.7M5.3,52.8v4.5M4.2,85.4v2.6M38.6,86.3v5.1M11.6,37.9h2.4M17.5,30.2v5.4M56.3,98.2v4.9M24.0,40.0v3.0M20.6,57.4h4.6M42.5,13.4v2.3M44.1,99.3v4.0M51.2,31.8h5.4M48.0,48.2h2.2M47.4,93.6v3.2M22.5,89.3v5.2M24.7,36.3v1.8M53.0,31.2v1.8M53.3,57.4v1.3M17.5,57.4v2.0M39.9,12.7h4.1M49.7,34.5v3.5M24.1,21.9h2.8M53.0,38.9h1.2M29.1,71.5h3.2M38.4,46.4v2.2M52.5,66.0h2.1M55.0,47.1h4.0M38.3,90.6v4.9M25.4,41.7h3.3M40.8,47.4v5.2M29.3,72.9v5.1M30.1,40.1h1.2M32.7,22.9v3.2M21.3,57.3h5.3M52.0,98.0h2.5M49.2,55.7h2.2M42.5,43.3h4.1M18.6,39.6h4.7M11.9,19.3v4.1M18.4,100.6h4.1M30.1,88.0v3.8M13.1,61.9h4.7M20.2,35.2h1.9M28.9,47.8h3.9M60.1,25.1h3.3M30.4,43.3h3.1M25.3,71.5h2.5M9.1,47.8v2.1M32.3,31.6v4.0M33.5,52.7v3.8M64.0,59.0v1.5M39.0,49.3v4.0M30.6,35.4h1.4M40.9,13.4v5.2M19.3,56.7v4.2M24.3,88.2v4.4M26.4,64.1h1.6M52.4,94.9h4.9M20.9,71.9h5.1M12.0,38.4h2.7M8.0,33.8v5.0M52.1,63.0h3.5M22.2,28.2v1.3M26.3,45.1h5.2M9.3,81.7v3.2M41.0,82.4v4.9M43.7,63.8v2.0M35.9,80.3v1.7M57.8,22.1v5.1M4.6,38.6v3.4M53.6,24.4v4.7M6.0,93.7h2.6M46.6,73.9h5.4M14.0,34.8v5.2M62.0,85.9v5.4M34.1,79.1v3.3M4.3,33.4v2.0M2.8,60.0v5.2M47.5,27.4h3.2M31.3,14.8v2.6M47.4,35.7v4.5M43.4,76.4v5.5M61.4,83.5v4.5M13.8,46.5v3.3M56.4,83.2v3.1M44.7,63.0v2.2M5.8,55.6v4.0M26.5,35.3v2.6M60.2,94.9v3.0M11.5,32.4v1.6M22.9,26.2h3.0M6.9,99.6v1.7M15.1,84.4v4.9M51.7,71.5h4.7M53.1,95.1v2.3M8.3,47.5v5.5M16.5,85.7v4.1M50.0,27.5h2.2M45.0,40.1h2.6M54.2,31.4v5.0M13.5,57.2v3.2M42.9,74.1v1.4M16.6,59.8v1.5M7.7,17.3v1.3M31.3,57.1h5.3M44.5,44.2v4.2M54.8,81.1h5.4M61.1,67.4v1.5M23.7,38.8v3.0M32.6,49.9h5.1M21.4,74.9h4.8M56.5,19.7v4.8M37.4,71.4h3.5M23.3,19.0v2.8M17.2,100.1h3.9M43.4,59.5h5.3M59.8,65.3v3.9M7.4,42.3h2.0M10.8,90.9h4.3M59.4,46.1h4.0M19.8,54.3v2.0M26.3,94.7v1.9M46.8,50.0h2.7M15.8,26.8v4.0M4.3,94.0h2.8M18.5,16.0v4.8M11.2,21.3v1.9M36.6,95.2h4.9M35.2,62.2h2.9M23.0,28.2v5.2M27.0,38.0v5.2M58.1,56.1h2.6M7.9,47.1v4.3M36.3,47.9v5.2M48.4,61.9h5.3M40.1,48.8v4.4M16.4,69.3h4.2M7.7,32.8h4.8M16.1,86.6h1.7M12.4,92.7h2.4M60.2,97.0h4.5M42.7,19.3v3.6M54.7,24.4h1.7M37.5,13.6h2.4M59.8,44.9h1.7M10.6,101.0v1.6M36.7,55.5v1.7M35.3,41.7v3.6M32.7,93.9h1.5M24.2,99.1v2.6M16.8,66.3h2.0M58.3,95.3h3.9M25.3,95.5v4.1M26.3,50.4h4.3M21.9,79.0h1.8M38.6,48.0h5.4M18.0,92.3h4.8M37.0,63.7h4.9M38.9,101.4v3.5M41.7,15.0h1.4M21.2,22.8v2.2M31.0,83.3v4.0M50.2,86.8h4.3M45.6,30.7v4.3M31.0,61.2v2.1M50.4,58.9h5.3M4.5,59.7h1.6M38.5,82.8v1.8M6.6,28.1h5.2M5.4,75.6h3.3M61.4,77.4v3.3M18.1,26.2v3.6M3.7,44.1v4.5M11.7,32.5h4.7M19.6,24.1v2.5M33.7,58.0h4.8M39.1,45.6v4.8M17.0,87.7v3.8M24.0,23.7v2.7M63.1,46.2v5.0M60.0,39.9h1.6M49.7,60.9h3.0M17.0,41.3v2.5M12.9,99.0v3.7M30.4,99.7h3.0M34.5,82.8v5.1M17.8,70.2v2.5M60.1,95.8v4.4M12.9,59.2v4.7M42.7,85.0v2.3M55.4,22.5v3.0M59.3,67.7h2.4M37.1,15.0h1.2" stroke="#101018" stroke-width="0.5" fill="none" opacity="0.28"/>
<rect x="-20" y="-20" width="140" height="140" fill="url(#mesh)"/>
</g>
<polygon points="196.0,328.0 191.5,320.0 200.0,311.0 212.0,305.0 225.0,299.0 236.0,292.0 245.0,288.0 256.0,288.5 265.0,294.0 271.0,303.0 262.0,309.0 254.0,311.0 250.0,315.0 247.0,318.0 243.0,316.0 233.0,314.0 228.0,320.0 217.0,322.0 211.0,326.0" fill="#48a468" filter="url(#b2.5)" opacity="0.9"/>
<polygon points="196.5,327.0 194.0,322.5 203.0,315.0 216.0,308.5 227.0,303.5 230.5,306.0 231.5,312.5 228.0,318.5 217.0,321.5 211.0,325.0" fill="#c4a62f" filter="url(#b1.5)" opacity="0.9"/>
<polygon points="237.0,301.0 242.5,295.5 252.0,293.5 261.0,296.5 266.5,302.0 264.0,307.0 259.0,306.5 254.0,309.5 250.0,313.0 247.5,316.0 243.0,314.0 238.5,311.5" fill="#c4a62f" filter="url(#b1.5)"/>
<path d="M200,315l7,9M207,311l9,10M216,307l8,10M224,304l5,9M241,297l6,15M248,294l5,14M256,294l4,10" stroke="#2a9a85" stroke-width="1.5" fill="none" filter="url(#b1)" opacity="0.8"/>
</g>
<text x="64.5" y="208.8" text-anchor="end" textLength="33.4" lengthAdjust="spacingAndGlyphs" font-size="16.8" stroke="#111" stroke-width="0.25">0.02</text>
<text x="64.5" y="238.5" text-anchor="end" textLength="33.4" lengthAdjust="spacingAndGlyphs" font-size="16.8" stroke="#111" stroke-width="0.25">0.01</text>
<text x="61.0" y="267.4" text-anchor="end" textLength="9.4" lengthAdjust="spacingAndGlyphs" font-size="16.8" stroke="#111" stroke-width="0.25">0</text>
<text x="64.5" y="298.0" text-anchor="end" textLength="39.5" lengthAdjust="spacingAndGlyphs" font-size="16.8" stroke="#111" stroke-width="0.25">-0.01</text>
<text x="64.5" y="327.7" text-anchor="end" textLength="39.5" lengthAdjust="spacingAndGlyphs" font-size="16.8" stroke="#111" stroke-width="0.25">-0.02</text>
<text x="64.5" y="357.4" text-anchor="end" textLength="39.5" lengthAdjust="spacingAndGlyphs" font-size="16.8" stroke="#111" stroke-width="0.25">-0.03</text>
<text transform="translate(20.3,357.7) rotate(-90)" textLength="162.7" lengthAdjust="spacingAndGlyphs" font-size="17.6" stroke="#111" stroke-width="0.25">Strain rate (1/frame)</text>
<text x="159.1" y="375.1" textLength="77.5" lengthAdjust="spacingAndGlyphs" font-size="17.7" stroke="#111" stroke-width="0.25">t = 1.6 ms</text>
<!-- panel 4 -->
<clipPath id="k4"><rect x="421" y="194" width="261" height="159"/></clipPath>
<g clip-path="url(#k4)" stroke="#e5e5e5" stroke-width="0.8" fill="none">
<line x1="423.4" y1="179.0" x2="536.1" y2="256.8"/>
<line x1="536.1" y1="256.8" x2="687.0" y2="194.1"/>
<line x1="423.4" y1="206.0" x2="536.1" y2="283.8"/>
<line x1="536.1" y1="283.8" x2="687.0" y2="221.1"/>
<line x1="423.4" y1="235.4" x2="536.1" y2="313.2"/>
<line x1="536.1" y1="313.2" x2="687.0" y2="250.5"/>
<line x1="423.4" y1="264.8" x2="536.1" y2="342.6"/>
<line x1="536.1" y1="342.6" x2="687.0" y2="279.9"/>
<line x1="423.4" y1="294.2" x2="536.1" y2="372.0"/>
<line x1="536.1" y1="372.0" x2="687.0" y2="309.3"/>
<line x1="423.4" y1="323.6" x2="536.1" y2="401.4"/>
<line x1="536.1" y1="401.4" x2="687.0" y2="338.7"/>
<line x1="423.4" y1="353.0" x2="536.1" y2="430.8"/>
<line x1="536.1" y1="430.8" x2="687.0" y2="368.1"/>
<line x1="445.9" y1="194.6" x2="445.9" y2="353.0"/>
<line x1="445.9" y1="194.6" x2="845.9" y2="28.6"/>
<line x1="468.5" y1="210.1" x2="468.5" y2="353.0"/>
<line x1="468.5" y1="210.1" x2="868.5" y2="44.1"/>
<line x1="491.0" y1="225.7" x2="491.0" y2="353.0"/>
<line x1="491.0" y1="225.7" x2="891.0" y2="59.7"/>
<line x1="513.6" y1="241.2" x2="513.6" y2="353.0"/>
<line x1="513.6" y1="241.2" x2="913.6" y2="75.2"/>
<line x1="536.1" y1="256.8" x2="536.1" y2="353.0"/>
<line x1="536.1" y1="256.8" x2="936.1" y2="90.8"/>
<line x1="582.4" y1="237.5" x2="582.4" y2="353.0"/>
<line x1="582.4" y1="237.5" x2="182.4" y2="-38.5"/>
<line x1="628.7" y1="218.3" x2="628.7" y2="353.0"/>
<line x1="628.7" y1="218.3" x2="228.7" y2="-57.7"/>
<line x1="675.0" y1="199.1" x2="675.0" y2="353.0"/>
<line x1="675.0" y1="199.1" x2="275.0" y2="-76.9"/>
<line x1="721.3" y1="179.9" x2="321.3" y2="-96.1"/>
<line x1="767.6" y1="160.7" x2="367.6" y2="-115.3"/>
<line x1="813.9" y1="141.5" x2="413.9" y2="-134.5"/>
<line x1="860.2" y1="122.3" x2="460.2" y2="-153.7"/>
</g>
<line x1="423.4" y1="194" x2="423.4" y2="353.3" stroke="#8c8c8c" stroke-width="0.7"/>
<line x1="419.2" y1="203.6" x2="423.4" y2="206.0" stroke="#8a8a8a" stroke-width="0.7"/>
<line x1="419.2" y1="233.0" x2="423.4" y2="235.4" stroke="#8a8a8a" stroke-width="0.7"/>
<line x1="419.2" y1="262.4" x2="423.4" y2="264.8" stroke="#8a8a8a" stroke-width="0.7"/>
<line x1="419.2" y1="291.8" x2="423.4" y2="294.2" stroke="#8a8a8a" stroke-width="0.7"/>
<line x1="419.2" y1="321.2" x2="423.4" y2="323.6" stroke="#8a8a8a" stroke-width="0.7"/>
<line x1="419.2" y1="350.6" x2="423.4" y2="353.0" stroke="#8a8a8a" stroke-width="0.7"/>
<path d="M419.4,351.1L427.2,356.5M418.9,356.0L423.4,353.0" stroke="#777" stroke-width="0.6" fill="none"/>
<clipPath id="c4"><polygon points="425.5,264.0 445.1,251.9 470.3,240.5 495.4,231.7 520.6,224.2 545.7,214.1 570.8,203.6 681.8,281.6 648.8,295.6 628.7,303.1 623.6,305.1 613.6,306.9 601.0,311.9 588.4,314.4 578.4,318.2 563.3,325.7 553.2,329.5 545.7,334.5 536.1,341.3 525.6,332.0 508.0,316.9 482.9,300.6 455.2,283.0"/></clipPath>
<g clip-path="url(#c4)">
<polygon points="425.5,264.0 445.1,251.9 470.3,240.5 495.4,231.7 520.6,224.2 545.7,214.1 570.8,203.6 681.8,281.6 648.8,295.6 628.7,303.1 623.6,305.1 613.6,306.9 601.0,311.9 588.4,314.4 578.4,318.2 563.3,325.7 553.2,329.5 545.7,334.5 536.1,341.3 525.6,332.0 508.0,316.9 482.9,300.6 455.2,283.0" fill="#2d2c94"/>
<g transform="matrix(1.4530,-0.6040,1.1060,0.7730,425.5,264)">
<rect x="4" y="-5" width="58" height="18" fill="#2a46aa" filter="url(#b3.5)" opacity="0.75"/>
<polygon points="16.4,12.3 30.0,9.5 46.0,8.0 57.0,10.8 61.2,14.1 64.2,27.4 65.4,40.8 65.0,58.7 64.7,74.0 66.5,84.7 63.2,97.5 62.0,110.0 14.0,110.0 13.7,92.0 12.1,68.0 13.4,51.5 15.5,29.0" fill="#2a4aa8" stroke="#2a4aa8" stroke-width="16" stroke-linejoin="round" filter="url(#b4)" opacity="0.9"/>
<rect x="0.5" y="15" width="19.5" height="97" fill="#2a4aa8" filter="url(#b3)" opacity="1"/>
<rect x="4.5" y="17" width="15.5" height="95" fill="#1f8d96" filter="url(#b2.5)" opacity="1"/>
<polygon points="16.4,12.3 30.0,9.5 46.0,8.0 57.0,10.8 61.2,14.1 64.2,27.4 65.4,40.8 65.0,58.7 64.7,74.0 66.5,84.7 63.2,97.5 62.0,110.0 14.0,110.0 13.7,92.0 12.1,68.0 13.4,51.5 15.5,29.0" fill="#1f8d96" stroke="#1f8d96" stroke-width="8" stroke-linejoin="round" filter="url(#b2)" opacity="1"/>
<rect x="9" y="19" width="11" height="93" fill="#4da562" filter="url(#b2)" opacity="1"/>
<polygon points="16.4,12.3 30.0,9.5 46.0,8.0 57.0,10.8 61.2,14.1 64.2,27.4 65.4,40.8 65.0,58.7 64.7,74.0 66.5,84.7 63.2,97.5 62.0,110.0 14.0,110.0 13.7,92.0 12.1,68.0 13.4,51.5 15.5,29.0" fill="#4da562" stroke="#4da562" stroke-width="4" stroke-linejoin="round" filter="url(#b1.5)" opacity="1"/>
<polygon points="16.4,12.3 30.0,9.5 46.0,8.0 57.0,10.8 61.2,14.1 64.2,27.4 65.4,40.8 65.0,58.7 64.7,74.0 66.5,84.7 63.2,97.5 62.0,110.0 14.0,110.0 13.7,92.0 12.1,68.0 13.4,51.5 15.5,29.0" fill="#9c8e2a" filter="url(#b1.5)" opacity="1"/>
<path d="M13.7,60.0 L15.5,29.0 L16.4,12.3 L30.0,9.5 L46.0,8.0 L57.0,10.8 L61.2,14.1 L64.2,27.4 L65.4,40.8 L65.0,58.7 L64.7,74.0 L66.5,84.7 L63.2,97.5" stroke="#15152a" stroke-width="0.8" fill="none" opacity="0.5" stroke-linejoin="round" filter="url(#b0.4)"/>
<rect x="20" y="18" width="35" height="52" fill="#b8ac28" filter="url(#b7)" opacity="0.5"/>
<rect x="13" y="50" width="21" height="62" fill="#4da562" filter="url(#b5)" opacity="0.35"/>
<g filter="url(#b1)" opacity="0.4"><rect x="26.0" y="52.0" width="1.8" height="3.7" fill="#4da562"/><rect x="36.3" y="14.9" width="4.3" height="7.7" fill="#6fae4a"/><rect x="46.6" y="90.9" width="1.7" height="3.3" fill="#6fae4a"/><rect x="18.4" y="99.2" width="4.2" height="4.3" fill="#6fae4a"/><rect x="31.9" y="72.5" width="4.7" height="2.6" fill="#2a9a85"/><rect x="30.2" y="74.1" width="2.6" height="4.2" fill="#4da562"/><rect x="51.5" y="34.2" width="2.9" height="7.2" fill="#6fae4a"/><rect x="39.1" y="55.7" width="3.7" height="5.5" fill="#6fae4a"/><rect x="46.2" y="60.1" width="1.7" height="7.4" fill="#4da562"/><rect x="30.4" y="64.5" width="1.6" height="4.7" fill="#6fae4a"/><rect x="33.7" y="25.7" width="2.8" height="4.0" fill="#6fae4a"/><rect x="35.5" y="12.5" width="2.8" height="7.2" fill="#6fae4a"/><rect x="59.5" y="63.9" width="3.4" height="5.6" fill="#2a9a85"/><rect x="28.6" y="22.1" width="1.5" height="3.3" fill="#2a9a85"/><rect x="44.7" y="60.5" width="2.8" height="3.3" fill="#2a9a85"/><rect x="21.8" y="30.7" width="2.3" height="5.6" fill="#6fae4a"/><rect x="25.3" y="51.6" width="2.1" height="2.9" fill="#4da562"/><rect x="59.8" y="12.1" width="2.0" height="4.0" fill="#6fae4a"/><rect x="19.1" y="67.5" width="3.8" height="6.1" fill="#2a9a85"/><rect x="45.4" y="30.5" width="4.2" height="7.2" fill="#4da562"/><rect x="49.8" y="88.3" width="1.8" height="5.3" fill="#6fae4a"/><rect x="33.2" y="35.6" width="3.0" height="5.2" fill="#2a9a85"/><rect x="61.5" y="56.5" width="1.5" height="4.2" fill="#4da562"/><rect x="56.9" y="65.3" width="4.7" height="5.7" fill="#6fae4a"/><rect x="46.6" y="26.2" width="3.5" height="7.3" fill="#4da562"/><rect x="13.4" y="63.5" width="2.8" height="5.7" fill="#2a9a85"/><rect x="61.1" y="81.5" width="4.4" height="4.0" fill="#4da562"/><rect x="49.2" y="42.8" width="3.8" height="6.3" fill="#2a9a85"/><rect x="40.7" y="43.3" width="4.4" height="1.9" fill="#2a9a85"/><rect x="61.8" y="31.8" width="4.4" height="2.5" fill="#2a9a85"/><rect x="22.0" y="43.3" width="4.1" height="5.9" fill="#6fae4a"/><rect x="43.7" y="74.6" width="3.6" height="6.7" fill="#6fae4a"/><rect x="39.2" y="19.2" width="4.1" height="3.1" fill="#4da562"/><rect x="49.5" y="98.0" width="3.8" height="3.3" fill="#6fae4a"/><rect x="40.4" y="96.1" width="3.7" height="6.3" fill="#2a9a85"/><rect x="42.0" y="94.0" width="2.8" height="1.6" fill="#4da562"/><rect x="15.8" y="9.6" width="3.2" height="5.5" fill="#6fae4a"/><rect x="28.7" y="47.1" width="3.7" height="4.8" fill="#2a9a85"/><rect x="33.0" y="40.3" width="3.2" height="3.3" fill="#6fae4a"/><rect x="15.5" y="92.9" width="3.8" height="4.5" fill="#2a9a85"/><rect x="42.2" y="87.6" width="2.7" height="7.6" fill="#2a9a85"/><rect x="58.3" y="94.5" width="2.0" height="2.3" fill="#6fae4a"/><rect x="36.8" y="21.1" width="4.1" height="2.7" fill="#4da562"/><rect x="58.7" y="65.8" width="1.6" height="1.7" fill="#4da562"/><rect x="42.8" y="75.0" width="3.2" height="6.1" fill="#2a9a85"/><rect x="17.4" y="9.5" width="4.0" height="5.2" fill="#4da562"/><rect x="58.9" y="55.5" width="1.6" height="7.5" fill="#6fae4a"/><rect x="38.1" y="56.7" width="4.2" height="2.6" fill="#6fae4a"/><rect x="44.9" y="46.4" width="2.1" height="2.6" fill="#4da562"/><rect x="55.8" y="41.3" width="4.1" height="7.4" fill="#2a9a85"/><rect x="25.4" y="14.0" width="4.4" height="7.0" fill="#2a9a85"/><rect x="51.2" y="18.4" width="3.7" height="6.0" fill="#2a9a85"/><rect x="43.7" y="83.5" width="4.0" height="7.9" fill="#4da562"/><rect x="37.8" y="33.2" width="2.4" height="2.1" fill="#2a9a85"/><rect x="15.3" y="19.7" width="1.6" height="5.0" fill="#6fae4a"/><rect x="57.0" y="95.8" width="4.8" height="2.0" fill="#6fae4a"/><rect x="34.1" y="42.9" width="4.8" height="7.6" fill="#6fae4a"/><rect x="37.8" y="31.2" width="3.2" height="5.9" fill="#2a9a85"/><rect x="20.8" y="83.2" width="3.1" height="4.7" fill="#4da562"/><rect x="46.0" y="20.5" width="3.1" height="7.1" fill="#2a9a85"/></g>
<path d="M34.3,58.9h4.9M24.3,10.7h1.7M20.6,56.3v5.5M32.7,46.1h4.2M16.1,87.1h3.9M46.1,99.1h1.4M38.1,94.2h2.0M25.6,12.6v4.1M35.8,11.6v4.3M47.6,38.9v4.8M44.2,58.8h2.2M55.3,72.3v2.7M57.8,12.1h1.9M12.9,78.8v4.0M22.9,18.5v2.7M45.1,13.6h3.1M46.0,19.5v2.0M57.6,66.2v2.5M27.0,72.7h3.9M57.8,86.1v2.4M26.4,14.1v3.4M44.7,59.4h3.3M28.4,45.9v3.6M16.1,31.7v5.3M16.1,49.5v4.0M16.7,92.8h4.5M41.1,85.6v2.2M42.6,14.9h2.4M19.7,96.7h2.3M44.6,57.6h2.6M39.1,93.5v1.5M63.1,72.2h4.7M64.5,77.8h4.2M24.1,73.0h4.4M29.0,58.4h2.1M18.7,44.8v3.4M28.9,20.1v5.2M49.0,72.8v2.6M29.4,69.4h4.7M55.4,19.0h1.3M42.7,88.6h5.2M35.4,96.5v5.0M25.6,33.8h1.8M34.1,82.9h4.0M21.8,50.4h5.0M55.0,72.7h5.0M32.7,51.0h4.6M22.6,86.7v3.3M21.6,11.9h2.2M63.4,49.1v1.2M28.5,24.2v3.9M29.7,74.8h5.0M44.3,35.5v4.0M30.6,70.7h5.3M55.5,52.9h5.3M32.9,23.2v2.3M41.0,41.6h5.3M13.1,80.2v3.6M39.1,96.7h2.6M60.2,58.1h1.3M13.0,76.6h3.9M55.4,80.9v3.9M35.7,73.1v2.9M44.2,71.3v5.2M41.1,18.6v3.5M23.4,32.0h2.4M56.3,58.4v1.6M50.0,10.5h2.0M50.0,45.6h1.3M22.6,61.5h3.0M30.0,11.7v2.6M41.3,63.3h1.9M53.6,75.1v4.0M28.8,76.8v2.4M61.4,50.8v3.8M38.8,30.5v5.3M29.8,33.8h1.3M54.4,30.6v4.8M59.7,53.6v5.1M19.9,93.4v2.5M42.0,45.6h3.4M16.7,92.9h2.7M33.9,67.7v3.9M31.2,97.7h1.3M38.8,68.8v3.0M33.3,68.3h2.3M47.1,51.2v5.4M28.8,11.1h2.0M35.2,48.6h1.6M34.4,78.9v1.7M32.7,80.8h4.1M50.5,42.7h4.8M29.1,56.6h2.5M43.5,30.4h4.9M49.7,98.2v1.6M21.7,50.6v1.7M29.0,56.4h5.4M16.4,73.3h1.4M30.8,13.3v5.2M13.8,78.4v2.2M32.3,85.5v5.2M23.3,43.0v4.9M14.2,45.8v4.8M34.7,72.2v3.1M27.7,78.7v1.9M29.1,39.7h2.3M17.2,71.1v4.1M35.6,63.4v4.6M33.4,78.3v4.7M48.5,29.5v4.7M52.4,78.0h2.1M54.6,70.7h1.3M35.1,69.3v1.7M30.8,68.9h2.4M20.1,72.5h3.9M18.3,86.6v2.3M65.2,84.2h1.8M57.2,47.1h1.3M27.6,31.3v1.4M15.3,35.1v4.2M55.1,30.3v1.9M55.9,77.4h4.4M51.1,93.4h3.8M57.0,11.3h1.2M32.4,99.2h4.4M43.3,47.1v5.1M31.9,95.9h4.7M59.7,50.5v3.3M35.1,48.9v2.2M51.1,71.2v1.9M38.8,18.7h2.1M19.9,56.4v4.4M46.0,88.5v5.1M57.9,61.0v4.4M61.5,55.8h1.5M50.6,65.1h4.8M56.6,101.3h3.3M49.5,15.4v4.6M32.8,93.0v2.8M28.1,75.9h1.7M33.6,91.5h4.7M37.1,87.4h5.4M20.9,81.8v2.0M29.1,14.3h1.3M14.6,68.0v4.4M39.3,66.9h4.9M44.8,23.7v4.1M30.1,72.6v1.9M15.5,31.5v3.0M41.5,15.9h4.0M30.3,98.1h3.4M25.1,33.7v2.0M26.8,70.9v3.6M47.0,61.1h1.3M20.3,101.6v3.6M46.5,65.0h4.9M31.0,69.9v2.6M28.3,75.6v3.5M58.9,98.3h5.4M41.2,21.2v4.6M38.5,56.7h2.8M36.9,73.2h1.5M27.9,80.2v3.3M33.7,24.5h2.4M39.0,51.1v2.9M44.3,38.8h4.2M48.2,45.8v4.5M38.5,17.5h4.0M15.9,27.1h4.6M50.6,55.2h3.8M63.0,49.1v1.5M59.5,52.1h4.0M21.3,38.4v1.4M49.0,22.0v5.5M53.0,75.6h3.6M45.1,74.1h2.8M63.0,33.8v5.2M14.8,93.4v2.7M54.3,33.7h4.6M61.2,63.6h5.4M50.4,35.4h2.4M51.4,98.8h3.0M16.4,27.1h4.4M37.3,88.8h4.1M62.8,72.8h1.9M60.5,33.5h3.4M52.4,48.5v4.1M18.1,43.0v4.3M58.9,45.1v4.1M58.6,23.7h1.5M29.3,76.8h3.8M14.6,45.5h5.4M61.6,45.2h3.8M63.6,83.6v4.1M43.9,30.0v3.9M16.0,51.8v3.3M37.0,16.1v2.5M46.1,78.6v5.2M60.5,99.9v5.2M40.2,11.8h5.2M28.7,41.9v4.4M28.0,23.0h2.9M45.1,88.4h2.9M63.3,24.5v2.0M49.0,41.3h1.7M59.8,99.6v2.3M55.0,85.8h1.3M16.7,61.1v2.1M25.5,50.3v1.8M24.3,33.6h2.5M16.7,83.3h1.6M13.4,59.7v3.4M19.0,41.7v5.1M61.4,24.7h1.8M30.2,64.0v1.4M42.0,32.6v4.3M45.9,50.2v3.0M57.6,102.0v2.1M53.1,58.6v3.1M13.6,64.4h2.0M43.7,33.6h4.5M59.0,13.8v5.3M62.8,84.3v1.5M35.4,48.9h4.6M46.3,36.3v4.9M62.7,25.4h1.5M19.1,29.2v3.5M43.3,101.9v4.4M45.9,42.2v5.3M46.2,21.7h1.6M19.2,34.1v2.8M33.3,42.9v3.1M58.1,100.5h2.2M35.0,67.9h2.7M62.0,38.9v4.4M41.4,77.6h5.4M15.4,85.2h5.1M33.7,30.1h2.4M35.1,47.1h2.3M43.8,52.0h3.3M38.1,86.3h2.2M35.7,24.0h2.2M63.7,70.2v3.1M36.5,65.7h4.0M29.8,101.5v4.5M48.5,37.4v2.0M29.5,57.4v4.9M39.9,58.4v2.5M28.3,77.8v4.5M46.8,20.9h5.2M63.6,49.0h4.8M33.9,35.8v4.6M31.5,32.9h4.2M55.8,86.6v3.4M41.6,58.7h3.1M16.6,62.9v1.7M47.2,86.5h3.1M29.7,53.5v4.1M24.2,86.6h5.0M40.9,95.6h3.7M58.5,44.8v2.0M31.1,95.3h2.9M22.4,80.4h2.2M32.9,75.4v5.5M54.2,86.8h3.6M29.0,97.6h4.7M20.3,95.0v5.1M27.6,53.3h4.7M41.6,19.2h1.9M38.2,15.5v2.3M25.0,25.8h2.3M16.6,63.1v2.9M58.4,99.5h5.0M59.6,17.1v3.8M32.6,82.1v3.8M27.4,57.2h3.4M50.7,96.7h4.3M33.4,35.3v5.4M35.2,93.8v2.1M59.3,39.3v3.9M17.5,73.5h2.4M25.8,98.1h1.5M45.5,25.4v3.9M39.6,72.0v4.3M65.1,47.6v3.3M41.0,11.6h3.3M18.7,61.6h3.2M56.3,27.0h1.8M31.5,53.3h4.9M53.6,74.2h3.8M22.6,93.3v3.0M18.5,96.1h1.6M42.4,86.5h5.3M15.3,38.3v3.5M58.6,88.9v4.2M58.6,12.5h2.7M25.6,57.1v3.3M59.3,64.3h3.2M24.6,94.9v5.3M55.7,80.8h1.8M55.2,85.7h3.9M26.3,74.3h3.1M58.2,48.0h3.2M34.8,100.3h2.9M60.9,75.6h1.4M29.5,46.1h4.7M51.9,50.6h2.1M37.1,22.1v1.4M52.0,73.6h4.5M53.9,30.8h3.6M17.7,93.7v4.8M38.6,18.8h1.8M58.3,96.8h4.4M57.7,101.3v1.4M22.1,52.1v1.7M50.4,70.9v3.0M18.7,97.2v4.1M49.3,95.2h2.0M25.1,35.8v4.9M22.2,51.6v3.1M62.9,79.2v1.9M61.4,51.4h2.0M48.5,81.2v1.5M20.8,46.0v2.2M38.3,25.8h1.8M18.9,80.4v1.7M55.8,55.0h3.7M54.0,75.8v3.4M27.8,22.8v2.7M43.3,71.0v1.6M42.8,47.3h1.9M36.1,39.3v4.5M42.6,96.1v1.5M40.1,99.4h4.9M50.0,29.4v2.1M41.5,47.2h5.4M14.1,50.3v3.1M46.6,22.5h4.3M20.1,28.6v1.9M34.1,54.7v3.2M35.6,11.4h1.5M31.2,92.2h3.2M23.0,12.5h1.4M29.0,73.8h4.7M57.6,34.0h4.6M22.4,92.9h5.4M49.4,61.1h2.5M16.6,42.9h3.7M60.0,18.9h3.7M45.4,55.7h1.2M56.4,97.9v2.5M24.2,80.1h2.0M48.7,65.3v4.1M31.1,82.7h3.7M26.9,62.9v2.0M32.5,86.3h3.5M24.4,100.2v2.0M42.8,99.8h3.0M36.9,53.0v2.4M38.9,88.4h5.2M48.6,42.2v1.8M36.9,96.8v3.2M49.0,40.4v3.6M34.8,18.4v3.6M45.9,100.5v4.0M16.1,28.1h4.5M21.1,78.6h2.5M51.6,38.2v4.3M43.1,88.4v3.7M16.0,34.3v3.8M44.2,52.4v2.5M41.6,27.6h2.2M62.9,42.7v2.3M15.6,91.8h1.3M29.5,98.8h3.5M31.6,47.2v4.7M47.8,19.6v2.6M41.7,73.1v1.8M28.3,39.0v3.0M28.5,17.1v5.4M15.5,92.3h5.0M52.7,10.2v2.0M62.2,48.9v3.0M57.9,19.2v3.5M54.7,76.2h5.1M30.4,93.3h1.4M39.0,91.9v2.5M23.2,92.1h2.4M57.6,84.7h3.2M18.0,53.1h4.9M18.8,17.2h4.3M27.8,21.8v1.8M56.7,98.0v4.7M43.4,13.1h2.3M35.4,38.6h3.0M33.8,51.0v3.9M34.8,86.0v5.4M45.6,12.5v3.4M50.4,50.8v2.4M30.8,55.8v4.7M23.7,87.1v3.9M30.8,87.2v2.7M16.8,45.6h3.1M62.2,80.0h5.0M64.8,44.6v1.9M31.8,70.9h4.3M16.0,55.3v2.6M25.9,53.8h2.8M62.6,28.0h2.6M63.8,68.0h4.8M23.9,97.0v1.4M62.3,98.0v3.6M27.6,45.2h2.2M30.9,19.3h3.8M41.5,22.5v3.3M20.4,38.9v4.3M46.3,74.7v2.9M16.9,92.7v3.6M54.0,59.9h4.6M54.4,47.8v1.8M57.7,84.6v3.8M33.1,34.2h4.1M27.5,12.8v5.2M58.4,72.2v4.6M61.2,68.8h4.0M33.5,37.7v2.1M50.5,100.3h1.8M34.7,69.6v4.5M43.1,27.0v2.1M22.0,56.7h4.0M58.4,72.6v5.4M52.0,78.3v3.6M58.6,70.2h2.1M25.4,92.8v3.5M35.8,21.5h1.7M16.3,97.8h4.0M43.5,70.7v2.4M32.7,52.8v1.4M16.7,62.2h3.0M21.6,34.4h1.9M21.5,68.6v3.6M22.3,88.0h3.6M18.7,20.3v2.2M51.1,11.4h3.1M31.9,67.6v3.1M25.3,86.1h1.3M32.9,17.1h3.1M40.2,80.1v3.5M28.0,76.8h4.7M46.0,39.1h4.8M57.8,16.8v4.6M24.6,73.9h5.0M21.1,57.6h4.4M52.5,89.0v4.4M49.1,97.3h2.9M21.3,15.1v2.5M33.1,62.8v3.6M28.0,101.3v4.7M14.3,72.7h3.1M50.6,18.9h3.1M61.5,45.8v3.4M37.9,61.5v2.2M51.3,98.7h2.5M55.5,27.1v4.1M50.5,82.9h2.5M20.9,94.7h3.1M46.8,45.0v5.4M46.4,32.3h1.6M18.8,17.4v2.4M53.6,39.8h4.1M20.2,40.1h2.2M19.1,47.3v4.3M54.6,54.9v2.9M15.4,43.0h2.9M19.7,73.7h1.7M31.6,23.1v2.6M55.2,12.5h1.7M62.3,49.6h5.1M59.1,73.9h4.7M26.7,64.3v4.7M26.5,66.6v1.8M49.6,20.6h4.5M32.9,53.3v2.1M48.0,45.3v4.1M63.3,37.3v3.0M47.3,25.1h2.9M37.5,56.0v4.5M51.7,13.9v1.5M41.9,80.4h4.5M48.0,48.2v2.2M55.0,53.9h1.6M23.4,56.4h2.2M45.5,63.0v2.6M46.3,31.7v2.3M40.1,52.6h3.7M59.1,23.8v3.1M24.7,46.1v5.4M29.6,93.4v3.5M49.9,33.8h4.5M59.2,91.1v4.1M31.6,18.0h4.4M62.2,30.5v4.4M23.0,47.0h3.1M41.8,94.8v5.2M33.1,95.9v1.4M48.6,42.9h3.8M49.2,24.9h2.4M47.2,10.7v2.8M62.4,96.1v1.3M20.6,88.6h5.4M65.3,82.2v1.3M40.6,42.9v4.9M18.3,35.2h4.9M32.3,85.9v4.4M47.9,96.9v4.8M40.2,91.5v2.1M43.1,101.2h4.3M44.9,93.7h2.8M26.4,31.2v3.5M33.6,70.4v2.6M36.1,24.8v4.3M65.4,80.3h1.5M20.2,12.2v3.6M31.1,86.5v3.7M28.4,91.9v3.5M25.4,79.1h1.6M16.3,17.1v4.8M58.2,58.1h2.0M25.6,60.2v2.5M42.2,82.4v3.3M59.4,67.5h3.2M64.6,55.0v1.9M18.9,80.3h3.5M17.6,97.2v3.1M24.5,72.3v1.4M45.7,37.6h2.8M54.3,91.8v2.4M16.1,59.5v1.6M51.9,93.7h4.9M42.6,30.1h4.1M56.3,66.5h1.7M13.3,84.1h4.0M27.7,70.2h4.9M50.7,55.9v1.6M41.8,54.7v2.9M29.1,35.8h2.6M16.2,37.1v2.6M52.8,91.1v4.9M61.6,75.3v2.5M37.6,38.9v4.9M26.3,30.1h3.5M21.7,19.7h3.8M33.6,31.3h1.9M55.5,68.0v2.1M40.2,83.3h3.6M45.2,83.9v5.3M35.3,62.9h3.0M23.0,35.5v1.8M33.0,30.1h3.8M29.6,34.7h2.8M36.5,10.6h4.3M44.2,11.7v3.5M39.5,68.1h1.6M30.9,83.3h3.6M50.7,71.7v4.5M24.2,62.1h5.5M51.8,92.9v2.1M22.5,88.4h1.6M17.3,23.0h4.3M25.0,42.8v1.2M15.1,90.9h4.7M15.0,56.8v4.1M33.2,10.7v2.3M18.7,32.8h2.9M37.5,63.9v4.6M64.5,52.3h4.3M27.4,71.1v3.6M26.7,74.1v3.9M40.5,36.7v3.8M44.5,64.2h4.1M59.1,18.4h2.0M54.4,18.9h4.0M36.1,75.7v1.7M57.8,47.1h3.9M26.8,58.8v1.4M20.8,69.5h3.5M12.5,66.8v1.4M64.3,62.6v1.7M37.9,94.7v2.2M16.5,14.0v3.7M32.1,61.9h3.3M18.4,19.9h4.3M17.5,21.1v3.7M54.9,43.8v3.6M59.2,44.9v3.4M44.1,26.4h3.2M32.0,54.9v3.2M60.1,96.3v2.0M50.2,81.8v4.5M24.4,30.8h3.6M51.4,100.0v4.0M15.1,37.3h4.5M26.9,32.6h3.5M21.5,52.7h3.3M38.5,92.2v1.9M34.4,87.1h3.8M51.2,87.1h3.3M54.3,74.6h1.3M14.5,54.9v4.0M21.9,58.8h1.5M42.2,21.6v4.5M46.8,48.2v2.9M22.1,18.4v1.2M55.0,86.7v5.4M45.4,83.7v1.7M59.5,31.2v3.2M17.2,14.4h2.3M57.7,75.0v2.4M53.8,76.0h5.0M30.8,71.1h4.1M21.9,63.1h2.1M27.4,25.0h1.4M32.1,71.7h2.8M25.3,94.1h2.2M16.3,56.7h1.6M57.2,95.2h2.8M60.6,63.5h4.4M24.1,26.4h4.3M50.9,80.9v5.1M60.8,27.0h3.0M54.8,63.2h1.7M57.6,76.9h4.4M64.4,77.6h4.0M27.8,32.8h2.2M33.4,56.7v4.7M23.3,46.0v3.1M62.8,88.2h1.4M15.3,43.8v3.8M16.9,91.6h2.7M32.9,21.2h2.1M33.1,73.1h1.7M50.6,79.7v3.0M42.5,77.8h2.3M35.3,20.6v4.3M32.2,69.5v5.0M18.9,75.0h3.9M45.4,78.0h1.2M37.1,82.5h4.0M44.3,45.4h2.9M27.9,59.1v3.5M34.1,28.2v1.7M17.0,93.5h3.5M53.5,53.7h1.5M27.3,72.3v1.5M16.1,55.6h3.6M40.4,73.6h4.6M49.3,26.3v5.2M51.0,86.9v5.3M61.2,79.1h4.1M54.0,24.0h5.5M36.8,28.9h3.6M39.3,95.1v5.2M58.2,73.8h4.3M14.4,48.0h3.4M59.8,29.0h3.4M39.3,12.2h4.4M17.9,57.8v5.3M27.1,64.8h2.9M20.9,59.3v1.6M15.4,97.9v5.1M37.7,47.9h3.5M53.1,72.0h5.3M19.4,57.9v5.4M17.5,89.1v3.4M57.5,101.2v2.6M62.0,17.8h2.8M18.3,61.4v1.5M27.4,98.0h1.7M42.2,55.6v2.1M52.6,27.1h2.8M54.3,74.6v2.5M31.6,95.2v4.6M38.0,84.4h2.3M61.7,29.2v2.5M44.0,63.2h2.1M59.2,53.2h1.7M18.3,64.9h1.6M44.7,48.2v2.9M41.1,21.9h4.8M26.5,67.0v5.2M27.2,43.0h5.1M24.0,100.8v2.2M41.8,30.4h2.7M62.7,69.3h3.7M62.8,35.0v2.5M35.8,16.6h1.5M53.2,45.2v2.0M20.6,16.2h3.8M34.0,37.1h4.1M42.0,70.5h3.4M30.9,84.1h1.8M26.9,49.2h1.4M22.1,40.8h4.6M20.1,73.1h5.1M60.1,94.0h4.2M55.4,42.2h2.8M54.6,88.1v5.4M32.8,20.9h2.0M36.0,90.5h1.7M40.4,13.2h4.6M21.2,29.7v1.9M24.9,33.3v3.1M13.4,54.8v3.3M25.3,37.0v2.1M34.0,22.0v2.1M50.0,38.8h3.1M13.3,84.7h1.8M56.5,98.4v1.7M40.6,20.9v4.0M51.7,57.5h4.9M29.2,49.4h3.2M30.3,61.7v3.0M21.9,41.0h3.7M42.3,38.9v4.8M64.8,36.2v3.1M42.9,50.9v1.5M58.9,57.5h2.3M35.6,77.2v2.7M20.1,49.3h2.5M62.3,42.0v4.1M46.7,23.0v2.6M61.2,32.9h5.1M41.3,23.5v3.5M61.3,78.0v2.0M55.2,77.5h3.9M49.4,70.3h4.6M45.3,70.6h4.2M47.2,89.7h2.3M58.0,58.8h1.4M47.5,23.9v4.2M54.4,25.8h5.0M38.9,67.7v3.2M27.8,25.8v5.5M45.1,76.4v5.3M64.7,56.0h2.1M39.4,19.3v5.4M49.6,95.5v1.7M20.2,70.5h2.6M32.8,41.7h2.1M59.7,87.1h1.2M23.9,71.3v5.3M38.7,101.9v1.7M37.6,23.8h4.1M31.7,35.3v3.6M39.6,74.8v5.4M41.4,29.7v1.9M34.7,65.2v3.1M59.3,83.6v1.4M53.3,89.7v4.4M30.0,67.6h2.5M42.5,68.8v4.9M60.5,72.0v3.0M54.3,63.3v5.4M14.5,81.1v5.1M27.3,47.6h5.1M52.9,41.6h2.5M53.1,15.5h4.5M33.1,89.7v3.7M48.7,58.1v1.6M41.5,27.7v4.0M53.5,12.8v2.1M55.6,27.3v4.1M61.2,71.9v4.7M56.5,83.2h1.7M17.6,41.2v3.0M48.1,51.3h1.7M28.8,82.8v5.3M54.6,101.7v1.7M18.4,77.5v1.3M44.9,62.1v1.4M39.7,25.9v5.4M55.9,93.6v3.2M58.6,27.1h2.6M19.7,63.8v2.2M41.0,56.0v2.9M50.4,58.7v3.5M50.0,37.1h1.9M61.2,88.6v4.2M13.3,53.6h4.5M42.6,76.9v2.6M22.3,31.0v2.4M31.6,32.2v4.7M39.7,58.2v1.2M41.0,49.3h4.4M18.0,49.6h3.5M19.5,91.1v2.3M28.5,16.4v1.5M20.8,58.9h5.0M14.2,78.0v2.7M44.6,24.6v1.5" stroke="#101018" stroke-width="0.5" fill="none" opacity="0.4"/>
<rect x="-20" y="-20" width="140" height="140" fill="url(#mesh)"/>
</g>
<path d="M546,333l6,-3M556,327l8,-3M570,320l7,-2M582,316l10,-3M600,311l9,-3M615,306l8,-2" stroke="#1f8d96" stroke-width="5" stroke-linecap="round" fill="none" filter="url(#b1.5)" opacity="0.85"/>
<path d="M540,337l4,-3M552,330l5,-2M565,322l6,-2M578,318l5,-2M593,313l6,-2M610,308l4,-1" stroke="#2a4aa8" stroke-width="3" stroke-linecap="round" fill="none" filter="url(#b1)" opacity="0.7"/>
</g>
<text x="419.0" y="207.9" text-anchor="end" textLength="33.4" lengthAdjust="spacingAndGlyphs" font-size="16.8" stroke="#111" stroke-width="0.25">0.02</text>
<text x="419.0" y="237.7" text-anchor="end" textLength="33.4" lengthAdjust="spacingAndGlyphs" font-size="16.8" stroke="#111" stroke-width="0.25">0.01</text>
<text x="415.5" y="266.5" text-anchor="end" textLength="9.4" lengthAdjust="spacingAndGlyphs" font-size="16.8" stroke="#111" stroke-width="0.25">0</text>
<text x="419.0" y="297.1" text-anchor="end" textLength="39.5" lengthAdjust="spacingAndGlyphs" font-size="16.8" stroke="#111" stroke-width="0.25">-0.01</text>
<text x="419.0" y="326.9" text-anchor="end" textLength="39.5" lengthAdjust="spacingAndGlyphs" font-size="16.8" stroke="#111" stroke-width="0.25">-0.02</text>
<text x="419.0" y="356.6" text-anchor="end" textLength="39.5" lengthAdjust="spacingAndGlyphs" font-size="16.8" stroke="#111" stroke-width="0.25">-0.03</text>
<text transform="translate(374.1,355.8) rotate(-90)" textLength="162.2" lengthAdjust="spacingAndGlyphs" font-size="17.6" stroke="#111" stroke-width="0.25">Strain rate (1/frame)</text>
<text x="514.1" y="375.0" textLength="77.5" lengthAdjust="spacingAndGlyphs" font-size="17.7" stroke="#111" stroke-width="0.25">t = 0.8 ms</text>
</svg>
</body></html>
